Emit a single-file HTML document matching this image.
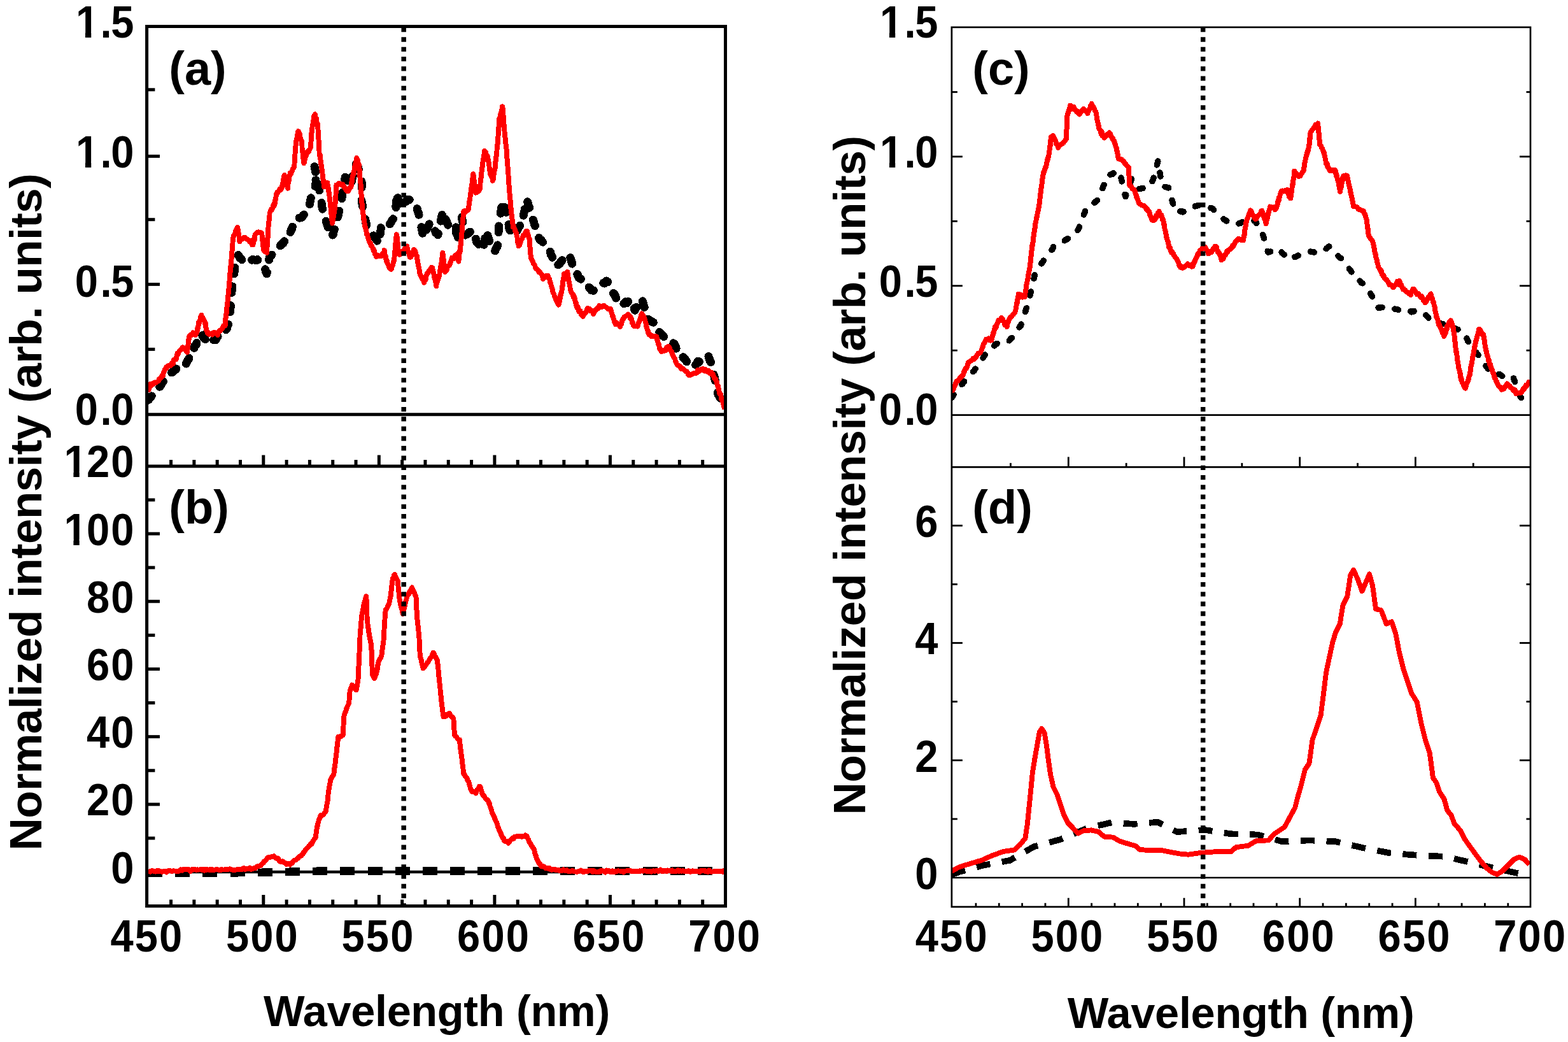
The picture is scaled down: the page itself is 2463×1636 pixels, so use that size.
<!DOCTYPE html>
<html><head><meta charset="utf-8"><title>Normalized intensity vs wavelength</title>
<style>
html,body{margin:0;padding:0;background:#fff;width:2463px;height:1636px;overflow:hidden}
svg{display:block}
text{font-family:'Liberation Sans', Arial, sans-serif;font-weight:bold;fill:#000}
</style></head><body>
<svg width="2463" height="1636" viewBox="0 0 2463 1636">
<rect width="2463" height="1636" fill="#fff"/>
<line x1="230.60" y1="650.80" x2="1139.50" y2="650.80" stroke="#000" stroke-width="5" />
<line x1="230.60" y1="1369.10" x2="1139.50" y2="1369.10" stroke="#000" stroke-width="4.5" />
<line x1="1494.90" y1="651.60" x2="2404.00" y2="651.60" stroke="#000" stroke-width="2.7" />
<line x1="1494.90" y1="1378.00" x2="2404.00" y2="1378.00" stroke="#000" stroke-width="2.4" />
<defs><clipPath id="cA"><rect x="230.6" y="41.5" width="908.9" height="690.5"/></clipPath><clipPath id="cB"><rect x="230.6" y="732" width="908.9" height="690.5"/></clipPath><clipPath id="cC"><rect x="1494.9" y="42.8" width="909.1" height="690.6"/></clipPath><clipPath id="cD"><rect x="1494.9" y="733.4" width="909.1" height="690.4"/></clipPath></defs>
<polyline points="231.9,628.5 233.4,627.8 234.9,624.7 236.4,624.6 237.9,622.2 239.4,620.7 240.8,620.7 242.3,618.0 243.8,616.4 245.3,615.4 246.8,614.2 248.0,611.7 249.3,610.4 250.5,607.6 251.8,606.3 253.0,604.5 254.2,602.2 255.5,600.3 256.7,598.5 258.0,597.8 259.2,596.1 260.5,594.3 261.7,592.8 263.3,590.4 265.0,589.8 266.6,588.5 268.3,587.4 269.9,584.8 271.6,583.6 273.2,581.0 275.1,581.0 277.0,578.8 278.9,578.3 280.8,579.1 282.8,575.7 284.7,576.8 286.6,575.5 288.5,574.0 290.4,573.5 291.6,571.8 292.7,570.3 293.9,567.6 295.0,565.6 296.2,563.8 297.3,561.7 298.5,560.6 299.4,558.1 300.3,557.5 301.2,553.6 302.1,552.2 302.9,550.4 303.8,547.7 304.7,548.6 305.6,543.6 306.5,543.2 307.4,541.3 308.4,541.0 309.3,536.7 310.2,537.1 311.2,534.0 312.1,532.7 313.1,530.5 314.0,529.7 314.9,526.6 315.9,525.6 316.8,524.1 317.9,527.1 319.1,525.9 320.2,530.6 321.4,532.0 322.6,532.9 323.7,535.3 324.9,536.6 326.0,540.0 327.8,538.0 329.7,536.8 331.5,535.9 333.4,535.0 335.2,534.1 337.0,532.7 338.9,533.8 340.7,530.1 342.6,528.0 344.4,529.5 346.2,528.1 348.1,527.1 349.9,525.3 351.8,524.0 353.6,522.9 354.3,521.3 355.0,518.2 355.7,516.2 356.4,515.8 357.1,512.7 357.7,509.6 358.4,509.8 359.1,506.7 359.8,503.7 360.5,501.2 360.7,500.1 360.8,497.3 361.0,495.0 361.1,492.8 361.3,491.3 361.5,490.3 361.6,487.2 361.8,484.4 362.0,483.8 362.1,481.3 362.3,479.8 362.4,477.9 362.6,474.9 362.8,472.8 362.9,470.8 363.1,468.0 363.3,467.2 363.4,465.6 363.6,462.7 363.7,460.3 363.9,458.2 364.2,455.8 364.5,453.7 364.7,451.9 365.0,449.5 365.3,447.7 365.6,444.8 365.8,444.1 366.1,441.8 366.4,438.9 366.7,436.0 366.9,435.6 367.2,434.3 367.5,430.9 367.8,429.0 368.0,426.9 368.3,425.6 368.6,422.5 368.9,421.7 369.1,418.7 369.4,417.5 369.7,414.8 370.4,412.7 371.0,409.8 371.7,408.4 372.3,406.7 373.0,405.4 373.6,403.1 374.3,400.5 375.6,402.9 376.9,405.0 378.2,405.8 379.5,407.3 380.8,408.9 382.1,411.4 383.4,412.9 385.3,411.1 387.2,411.2 389.1,409.9 391.1,408.9 393.0,409.5 394.9,408.5 397.2,407.4 399.5,408.0 401.8,408.3 404.1,407.5 405.9,409.2 407.8,411.1 409.6,410.8 411.5,413.6 413.3,415.3 414.1,417.3 414.9,418.1 415.7,421.4 416.6,422.7 417.4,425.8 418.2,428.0 419.0,429.9 419.4,427.1 419.7,425.2 420.1,424.2 420.4,420.9 420.8,419.9 421.1,417.9 421.5,415.3 421.8,415.1 422.2,411.5 422.5,410.9 422.9,406.0 423.2,403.8 423.6,404.0 425.4,402.2 427.1,400.0 428.9,398.7 430.2,395.9 431.6,395.3 432.9,393.5 434.3,392.6 435.6,391.9 437.0,389.8 438.3,388.6 439.7,386.3 441.0,385.0 442.4,383.9 443.8,382.2 445.1,381.8 446.4,378.8 447.8,379.3 449.1,375.8 450.5,375.7 451.8,372.9 453.2,373.2 454.0,370.2 454.7,368.5 455.5,366.9 456.2,364.1 457.0,361.9 457.8,359.3 458.5,359.7 459.3,356.5 460.0,354.7 460.8,353.2 461.6,352.8 462.3,348.3 463.1,347.8 463.8,345.5 464.6,344.3 466.6,341.9 468.7,342.1 470.7,342.1 472.8,341.9 474.8,341.1 476.3,337.8 477.7,336.8 479.2,335.0 480.6,332.5 482.1,330.8 483.5,330.8 485.0,328.8 485.4,326.5 485.8,325.4 486.2,321.8 486.6,320.8 486.9,318.4 487.3,316.3 487.7,314.7 488.1,312.4 488.5,310.4 488.9,308.4 489.7,307.5 490.4,303.9 491.2,302.8 491.9,300.5 492.7,297.8 493.5,296.5 494.2,293.3 495.0,292.7 495.7,289.3 496.5,287.5 496.3,285.9 496.1,284.1 495.9,282.0 495.7,279.9 495.5,277.0 495.2,274.3 495.0,273.3 494.8,270.9 494.6,267.9 494.4,267.1 494.2,264.5 494.0,261.5 494.4,264.5 494.8,265.3 495.3,267.6 495.7,270.4 496.1,271.1 496.5,274.2 497.0,275.2 497.4,278.6 497.8,279.6 498.2,282.2 498.6,283.0 499.1,285.8 499.5,288.7 499.9,290.4 500.3,290.7 500.8,294.7 501.2,296.6 501.6,297.7 501.9,301.0 502.3,301.3 502.6,304.1 503.0,306.9 503.3,309.1 503.6,311.1 504.0,311.5 504.3,313.1 504.7,316.6 505.0,317.4 505.3,320.3 505.7,321.6 506.0,325.3 506.4,327.1 506.7,329.0 507.3,330.6 507.9,332.5 508.5,334.3 509.1,336.7 509.7,338.5 510.3,340.6 510.8,342.0 511.4,345.6 512.0,346.4 512.6,349.1 513.2,351.0 513.8,351.4 514.4,352.8 515.2,356.9 516.1,357.7 516.9,360.1 517.8,361.8 518.6,364.1 519.5,365.2 520.3,367.9 521.2,369.7 522.0,372.0 522.6,368.4 523.1,368.6 523.7,366.2 524.3,362.8 524.8,361.5 525.4,360.0 526.0,358.4 526.5,356.0 527.1,355.0 527.6,352.0 528.1,349.2 528.6,347.4 529.2,346.4 529.7,343.4 530.2,342.4 530.7,340.5 531.2,338.1 531.7,336.4 532.2,333.5 532.7,331.6 533.3,329.2 533.8,327.1 534.3,324.4 534.8,323.1 535.1,320.8 535.5,318.5 535.8,317.6 536.1,315.8 536.5,313.3 536.8,312.5 537.1,310.2 537.4,308.3 537.8,305.1 538.1,302.5 538.4,301.9 538.8,299.8 539.1,298.1 539.4,295.9 539.8,294.4 540.1,291.4 540.4,290.0 540.7,287.0 541.1,284.0 541.4,283.3 541.7,282.6 542.1,278.4 542.4,278.3 543.4,279.0 544.3,281.1 545.3,283.4 546.2,285.4 547.2,286.5 548.2,289.2 549.1,291.3 550.1,293.5 550.6,290.4 551.1,290.0 551.6,288.3 552.1,286.6 552.6,282.0 553.1,281.1 553.6,277.7 554.1,277.3 554.5,275.4 555.0,272.2 555.5,269.9 556.0,269.2 556.5,267.5 557.0,264.5 557.5,262.9 558.0,259.3 558.5,258.6 559.0,257.2 559.9,259.0 560.8,261.8 561.7,261.7 562.6,262.7 563.5,266.4 564.4,267.4 565.3,269.8 566.2,271.9 567.1,273.6 568.0,276.0 568.0,278.0 568.0,277.9 568.0,281.1 568.0,284.6 568.0,284.9 568.0,287.9 568.0,289.2 568.0,291.0 568.0,294.5 568.0,296.1 568.0,297.3 568.0,300.1 568.0,300.6 568.0,303.1 568.0,306.2 568.0,307.7 568.0,308.9 568.0,312.0 568.0,314.0 568.0,316.7 568.4,318.5 568.8,319.6 569.2,321.5 569.6,323.7 570.0,325.7 570.4,328.9 570.8,331.0 571.2,332.8 571.6,334.2 572.0,335.7 572.4,338.5 572.8,339.7 573.2,342.1 573.6,342.8 574.0,345.7 574.4,349.0 574.8,349.3 575.2,350.9 575.6,353.9 576.7,356.9 577.9,358.4 579.0,358.9 580.1,360.5 581.3,362.5 582.4,363.6 583.5,366.0 584.7,367.5 585.8,368.4 587.1,370.6 588.3,372.4 589.6,373.6 590.9,375.0 592.2,378.0 593.5,380.3 594.7,380.3 596.0,381.8 596.2,380.5 596.4,377.9 596.6,375.6 596.7,375.1 596.9,371.4 597.1,369.6 597.3,367.6 597.5,365.5 597.7,363.9 597.9,362.5 598.0,361.1 598.2,358.6 598.4,356.1 598.6,353.2 600.7,354.1 602.8,353.4 605.0,354.0 607.1,354.8 609.2,354.2 611.3,354.0 612.3,351.8 613.3,350.5 614.4,348.8 615.4,346.3 616.4,344.8 617.4,344.0 618.4,340.4 619.5,339.5 620.5,337.2 621.5,337.3 621.6,334.5 621.7,332.4 621.7,330.3 621.8,328.1 621.9,326.0 622.0,322.6 622.1,321.9 622.1,320.0 622.2,316.5 622.3,316.0 622.4,313.8 622.5,310.2 622.6,308.9 622.6,306.9 622.7,304.7 622.8,303.3 623.3,304.1 623.8,306.8 624.3,309.1 624.8,311.4 625.3,312.9 625.8,314.6 626.2,317.3 626.7,317.4 627.2,321.4 627.7,322.5 628.2,323.8 628.7,326.3 629.2,327.3 630.3,325.5 631.5,325.0 632.6,323.0 633.7,322.3 634.9,319.5 636.0,317.5 637.1,316.0 638.3,316.2 639.4,313.3 641.4,313.4 643.5,313.6 645.5,314.0 647.6,315.2 649.6,316.1 650.4,318.6 651.3,320.6 652.1,322.0 653.0,323.3 653.8,325.1 654.7,326.1 655.5,329.0 656.4,332.0 657.2,333.5 657.6,336.0 658.0,336.8 658.4,340.4 658.8,342.0 659.2,343.8 659.6,346.1 660.0,346.2 660.4,349.4 660.8,351.2 661.3,355.1 661.7,355.7 662.1,357.5 662.5,360.5 662.9,361.2 663.3,364.9 663.7,365.5 664.1,367.9 664.5,369.3 664.9,372.6 665.8,368.6 666.6,368.7 667.5,365.7 668.3,364.4 669.1,361.6 670.0,360.7 670.9,358.7 671.7,357.1 672.5,355.0 673.4,353.3 674.2,351.6 675.1,348.7 676.2,349.9 677.2,351.5 678.3,354.6 679.3,355.5 680.4,358.2 681.5,359.2 682.5,360.2 683.6,363.2 684.6,365.7 685.7,365.9 686.7,367.0 687.8,368.8 688.2,368.0 688.6,365.0 689.0,363.1 689.4,361.8 689.8,359.3 690.2,357.4 690.6,354.9 691.0,352.8 691.4,351.4 691.9,349.4 692.3,347.6 692.7,344.9 693.1,343.4 693.5,341.5 693.9,339.2 694.3,337.5 694.7,335.8 695.1,333.3 695.5,331.2 696.2,332.4 697.0,335.3 697.7,337.1 698.4,338.9 699.1,340.6 699.9,343.5 700.6,346.9 701.3,347.5 702.1,349.2 702.8,351.5 703.5,352.8 704.2,355.3 705.0,356.7 705.7,358.8 707.7,358.3 709.8,357.3 711.8,356.0 713.9,354.5 715.9,354.2 716.1,355.4 716.2,358.8 716.4,360.2 716.6,362.5 716.7,365.2 716.9,367.2 717.1,368.0 717.2,370.9 717.4,373.5 717.6,374.6 717.7,375.8 717.9,379.5 718.3,377.6 718.7,375.9 719.1,373.6 719.5,371.6 719.9,369.7 720.3,368.5 720.7,365.8 721.1,363.9 721.5,361.2 721.9,360.2 722.3,357.3 722.7,355.9 723.1,351.9 723.5,351.6 723.9,349.3 724.3,347.0 724.7,346.2 725.1,343.6 725.5,341.2 725.9,342.9 726.2,346.6 726.6,347.8 727.0,349.8 727.3,350.8 727.7,354.3 728.0,355.7 728.4,357.2 728.8,359.3 729.1,360.2 729.5,363.8 729.9,364.6 730.2,368.0 730.6,369.1 732.4,367.9 734.3,367.5 736.1,366.2 737.9,364.2 739.7,363.8 741.6,363.2 743.4,361.5 744.0,362.8 744.5,365.5 745.1,367.0 745.7,369.3 746.2,371.7 746.8,373.6 747.4,375.5 747.9,376.5 748.5,379.8 749.8,381.0 751.0,382.5 752.3,384.5 753.6,387.3 754.9,386.6 756.2,388.0 757.4,391.2 758.7,391.7 759.0,391.2 759.4,387.5 759.7,385.8 760.1,384.7 760.4,382.7 760.7,380.4 761.1,378.3 761.4,375.9 761.8,373.6 762.1,371.8 762.4,370.7 762.8,368.3 763.1,365.8 763.5,364.0 763.8,362.3 764.4,364.5 764.9,365.6 765.5,367.6 766.1,369.9 766.6,373.5 767.2,373.8 767.8,376.5 768.3,376.5 768.9,380.2 769.9,380.5 770.8,382.7 771.8,384.9 772.7,387.2 773.6,389.3 774.6,391.3 775.5,393.1 776.5,394.6 777.5,394.7 778.5,391.1 779.6,389.2 780.6,388.1 781.6,385.4 781.8,383.0 781.9,380.7 782.1,379.7 782.2,375.5 782.4,373.5 782.5,372.2 782.7,368.6 782.8,367.4 783.0,366.6 783.1,363.4 783.3,361.7 783.4,360.0 783.6,356.6 783.7,355.5 783.9,352.8 784.0,350.3 784.2,348.8 784.5,346.9 784.8,344.6 785.2,342.3 785.5,341.4 785.8,339.4 786.1,336.9 786.4,334.4 786.8,331.7 787.1,329.8 787.4,327.5 787.7,326.3 788.0,324.7 788.3,322.7 788.7,319.9 789.0,317.6 789.3,315.9 789.9,317.8 790.6,320.0 791.2,322.6 791.8,323.0 792.5,326.8 793.1,325.8 793.8,328.0 794.4,330.1 794.8,332.4 795.3,335.0 795.7,338.7 796.1,338.8 796.5,342.1 797.0,343.1 797.4,345.5 797.8,346.7 798.2,351.0 798.7,351.5 799.1,353.1 799.5,357.2 799.9,357.7 800.4,359.9 800.8,361.6 802.4,363.0 804.0,364.6 805.5,367.4 807.1,370.5 808.2,368.0 809.2,365.9 810.3,365.0 811.4,362.0 812.4,361.9 813.5,359.2 814.6,356.9 815.6,356.3 816.7,354.5 817.8,352.2 818.8,350.8 819.9,349.7 820.3,348.0 820.8,344.4 821.2,341.2 821.6,342.5 822.0,338.9 822.5,336.8 822.9,335.4 823.3,332.8 823.8,331.9 824.2,328.3 824.6,327.0 825.0,324.3 825.5,324.3 825.9,321.1 826.3,320.0 826.7,318.2 827.2,314.5 827.6,313.1 828.2,315.8 828.8,317.3 829.4,319.1 829.9,321.7 830.5,323.7 831.1,324.7 831.7,326.9 832.3,329.4 832.9,331.1 833.4,333.0 834.0,334.1 834.6,338.1 835.2,338.6 835.8,340.9 836.5,342.6 837.1,344.6 837.8,346.5 838.4,347.8 839.0,350.5 839.7,353.0 840.3,354.3 841.0,356.5 841.6,358.2 842.3,359.8 842.9,363.0 843.5,363.4 844.2,366.2 844.8,368.8 845.4,370.4 846.1,371.6 846.7,373.7 848.3,377.0 849.8,376.7 851.4,378.7 852.9,380.5 854.5,381.6 856.0,381.7 857.6,383.1 859.1,385.7 860.7,386.7 861.5,389.0 862.2,391.2 863.0,393.2 863.7,394.1 864.5,395.8 865.2,399.6 866.0,400.4 866.7,402.0 867.5,403.4 868.2,407.1 869.0,407.8 869.7,409.9 870.5,413.0 871.2,414.8 872.0,416.9 872.7,417.6 873.5,418.4 874.8,418.1 876.0,417.0 877.3,415.2 878.6,414.7 879.9,412.7 881.2,410.1 882.4,409.7 883.7,407.6 885.6,406.5 887.5,406.8 889.5,404.0 891.4,405.0 893.3,404.2 895.2,401.2 895.8,404.6 896.5,406.7 897.1,408.2 897.7,410.7 898.4,412.6 899.0,415.3 899.9,416.8 900.9,417.5 901.8,421.7 902.7,423.3 903.6,424.0 904.6,427.0 905.5,429.7 906.4,429.1 907.3,431.7 908.3,433.5 909.2,436.1 910.6,436.9 912.0,437.6 913.4,440.8 914.8,441.2 916.3,443.3 917.7,445.8 919.1,445.1 920.5,446.8 921.9,449.1 923.6,449.7 925.3,451.4 927.0,452.3 928.7,455.5 930.4,455.3 932.1,456.3 933.9,454.9 935.6,453.8 937.4,451.1 939.2,450.8 940.9,450.2 942.7,447.6 944.4,447.2 946.2,445.8 947.8,444.3 949.4,445.1 951.0,442.6 952.6,441.0 954.2,442.2 955.8,444.7 957.3,446.4 958.9,448.4 959.8,450.6 960.6,454.1 961.5,455.2 962.4,457.3 963.3,459.0 964.1,462.0 965.0,461.4 965.9,462.9 966.8,465.9 967.6,467.8 968.5,469.6 969.4,471.0 970.3,473.8 971.1,476.5 972.0,477.3 972.9,478.9 974.8,479.3 976.8,477.6 978.7,476.9 980.6,476.7 982.6,473.9 984.7,475.8 986.7,473.4 988.8,472.8 990.8,471.6 991.6,473.6 992.4,474.3 993.2,478.4 994.0,479.5 994.8,481.2 995.6,485.1 996.4,483.9 997.2,487.2 998.3,484.9 999.4,482.3 1000.5,483.0 1001.6,478.8 1002.7,478.3 1003.8,476.4 1004.9,474.9 1006.0,472.4 1007.1,472.4 1008.2,469.9 1008.8,470.8 1009.4,472.8 1010.1,475.8 1010.7,476.8 1011.3,479.9 1011.9,481.7 1012.5,483.1 1013.2,484.1 1013.8,486.5 1014.4,489.6 1015.0,491.0 1015.6,494.6 1016.2,495.0 1016.9,497.5 1017.5,499.7 1018.1,501.3 1020.2,502.6 1022.2,504.4 1024.3,504.8 1026.4,506.3 1027.5,507.7 1028.6,511.2 1029.7,511.8 1030.8,514.1 1032.0,513.2 1033.1,516.8 1034.2,518.2 1035.3,520.9 1036.4,522.4 1038.1,523.3 1039.7,525.2 1041.4,527.3 1043.0,528.8 1044.7,529.0 1046.6,531.2 1048.6,531.2 1050.5,533.1 1052.4,533.2 1054.4,535.6 1056.3,537.6 1057.5,537.7 1058.7,540.7 1059.9,540.7 1061.0,543.2 1062.2,547.4 1063.4,547.4 1064.6,549.7 1065.9,549.9 1067.1,552.8 1068.4,554.0 1069.7,557.1 1070.9,557.7 1072.2,561.6 1073.5,560.7 1074.7,563.5 1076.0,563.6 1077.7,566.3 1079.4,568.9 1081.1,569.6 1082.7,570.3 1084.4,573.1 1086.1,574.9 1087.8,576.1 1089.5,575.1 1091.1,572.0 1092.8,572.9 1094.4,570.8 1096.0,567.4 1097.7,568.8 1099.6,566.1 1101.5,565.8 1103.3,563.0 1105.2,562.9 1107.1,561.0 1109.0,561.9 1110.8,560.1 1112.7,558.6 1113.4,560.8 1114.1,563.8 1114.8,564.4 1115.5,567.2 1116.2,567.9 1116.9,569.4 1117.6,572.2 1118.0,574.3 1118.5,576.6 1118.9,579.1 1119.4,580.2 1119.8,582.2 1120.3,585.0 1120.7,586.7 1121.2,588.4 1121.6,590.5 1122.1,590.8 1122.5,594.0 1123.0,595.2 1123.4,598.1 1123.9,600.9 1124.3,601.1 1124.6,605.2 1124.8,606.3 1125.1,608.8 1125.4,610.8 1125.6,613.9 1125.9,615.1 1127.1,616.0 1128.3,619.6 1129.5,621.2 1130.6,623.6 1131.8,625.5 1133.0,626.2 1134.2,629.0 1135.0,631.2 1135.7,633.3 1136.5,635.6 1137.2,638.0 1138.0,640.0" fill="none" stroke="#000" stroke-width="13" stroke-linejoin="round" stroke-linecap="round" stroke-dasharray="10 20" stroke-dashoffset="0" clip-path="url(#cA)" shape-rendering="crispEdges"/>
<polyline points="231.9,613.1 232.9,611.3 233.9,611.9 234.9,606.2 235.8,607.2 236.8,602.7 237.8,605.2 238.8,602.3 240.6,603.3 242.5,600.4 244.3,601.1 246.2,599.8 248.0,598.7 249.2,598.2 250.3,594.6 251.4,594.0 252.6,593.7 253.8,591.1 254.9,588.8 255.8,590.4 256.6,585.9 257.4,583.4 258.3,582.6 259.1,580.0 260.0,578.4 260.8,576.8 261.7,578.1 263.2,574.6 264.8,573.8 266.3,573.5 267.8,574.3 269.4,570.5 270.9,569.0 272.0,571.3 273.2,564.5 274.4,564.2 275.5,563.8 276.6,564.2 277.8,558.3 278.7,554.5 279.6,556.7 280.6,553.3 281.5,551.6 282.4,550.9 283.8,549.1 285.2,547.8 286.7,545.4 288.1,546.2 289.3,548.1 290.4,547.8 291.6,548.8 292.7,551.9 293.9,553.2 294.1,549.4 294.4,548.4 294.6,548.5 294.9,545.2 295.1,543.1 295.4,542.0 295.6,539.9 295.8,538.1 296.1,533.8 296.3,536.8 296.6,533.0 296.8,529.8 297.1,530.4 297.3,527.7 298.8,525.9 300.2,525.8 301.7,526.0 303.1,522.3 305.0,524.4 306.9,525.9 308.8,522.6 309.2,521.3 309.6,521.1 310.0,515.9 310.4,515.9 310.7,516.0 311.1,513.8 311.5,511.3 311.9,506.1 312.3,509.8 313.0,505.7 313.7,504.2 314.4,502.1 315.0,497.5 315.7,496.2 316.4,494.7 317.4,500.4 318.4,498.5 319.4,500.8 320.4,502.4 321.4,505.1 321.8,506.8 322.2,508.3 322.6,508.1 323.0,507.4 323.3,513.5 323.7,515.4 324.1,518.4 324.5,518.5 324.9,519.6 326.0,522.9 327.2,522.2 328.3,524.8 329.9,523.7 331.5,524.3 333.2,525.4 334.8,522.6 336.4,521.9 337.8,522.2 339.2,523.7 340.7,524.2 342.1,525.8 343.0,521.2 343.9,521.0 344.9,519.0 345.8,519.9 346.7,517.9 348.1,516.9 349.5,515.8 350.8,511.8 352.2,512.0 353.6,511.5 353.8,507.1 354.0,506.6 354.2,503.1 354.4,499.4 354.6,499.7 354.9,496.6 355.1,496.0 355.3,493.3 355.5,492.5 355.7,487.4 355.9,491.0 356.1,488.2 356.3,484.1 356.5,481.5 356.7,480.8 356.9,479.8 357.2,477.6 357.4,475.6 357.6,470.7 357.8,469.9 358.0,471.2 358.2,467.9 358.4,463.8 358.5,462.8 358.7,460.1 358.8,458.8 359.0,459.9 359.2,456.2 359.3,456.1 359.5,453.0 359.7,448.9 359.8,448.2 360.0,450.2 360.1,444.3 360.3,442.1 360.5,443.2 360.6,439.9 360.8,437.9 361.0,438.0 361.1,431.8 361.3,432.9 361.4,429.1 361.6,426.7 361.8,425.7 361.9,426.5 362.1,423.0 362.3,418.9 362.4,418.1 362.6,419.8 362.8,417.3 362.9,412.7 363.1,415.6 363.2,410.0 363.4,407.1 363.6,406.7 363.7,406.4 363.9,405.4 364.0,402.8 364.2,399.0 364.3,397.0 364.5,393.9 364.6,393.9 364.8,391.3 364.9,390.6 365.0,386.7 365.2,385.9 365.3,383.5 365.5,381.2 365.6,379.4 365.8,377.7 365.9,375.7 366.1,376.1 366.2,373.6 366.9,369.9 367.6,370.5 368.3,368.4 369.0,368.1 369.7,364.0 370.6,362.0 371.4,359.4 372.2,358.5 373.1,357.0 373.4,358.3 373.7,359.6 374.0,362.5 374.2,363.7 374.5,365.7 374.8,365.9 375.1,369.2 375.4,369.4 375.6,371.5 375.9,374.6 376.2,379.0 376.5,379.3 377.9,376.6 379.3,375.0 380.6,375.2 382.0,374.4 383.4,372.8 384.9,372.5 386.5,374.5 388.0,375.4 389.3,376.7 390.6,377.3 391.9,379.4 393.3,378.2 394.6,380.8 395.9,384.3 397.2,383.8 397.6,383.9 398.0,379.7 398.4,379.1 398.8,378.4 399.1,374.7 399.5,373.3 399.9,375.8 400.3,369.8 400.7,368.0 402.1,366.7 403.5,366.0 405.0,364.5 406.4,364.4 407.9,365.3 409.5,364.9 411.0,366.1 411.2,366.6 411.5,368.3 411.7,371.1 411.9,374.9 412.1,375.9 412.4,378.7 412.6,380.7 412.8,381.0 413.0,385.9 413.3,384.2 413.5,385.9 413.7,388.0 413.9,391.9 414.2,392.1 414.4,393.1 416.7,395.3 419.0,396.8 419.1,393.3 419.2,391.2 419.4,391.1 419.5,389.1 419.6,387.2 419.7,383.0 419.8,382.6 420.0,380.8 420.1,376.1 420.2,378.2 420.3,374.8 420.5,372.4 420.6,373.9 420.7,369.3 420.8,366.2 420.9,365.2 421.1,364.2 421.2,362.7 421.3,359.6 421.5,356.7 421.7,355.1 421.8,353.0 422.0,350.9 422.2,350.4 422.4,347.9 422.6,346.8 422.7,343.7 422.9,341.8 423.1,340.9 423.3,338.8 423.4,338.9 423.6,334.4 423.8,334.0 424.9,331.9 425.9,328.6 427.0,329.6 428.1,327.1 429.1,322.4 430.2,324.3 430.7,322.9 431.1,318.7 431.6,320.2 432.1,316.3 432.5,312.7 433.0,313.1 433.4,310.0 433.9,306.8 434.4,303.9 434.8,305.2 435.3,302.0 436.4,302.4 437.5,300.6 438.6,298.0 439.7,296.5 440.8,298.1 441.9,296.6 443.0,293.9 443.4,290.6 443.8,288.0 444.1,287.0 444.5,287.9 444.9,284.6 445.3,281.8 445.7,278.7 446.0,278.8 446.4,275.6 446.8,275.0 447.3,277.8 447.8,280.0 448.3,280.6 448.8,281.7 449.4,284.3 449.9,288.1 450.4,288.0 450.9,287.5 451.4,293.2 451.9,293.2 452.2,295.6 452.6,288.6 452.9,287.2 453.3,285.1 453.6,284.1 454.0,281.0 454.3,277.9 454.7,275.4 455.0,276.0 455.4,273.6 455.7,271.6 456.8,273.5 457.8,270.1 458.9,268.7 460.0,264.9 461.0,264.3 462.1,261.9 462.2,260.1 462.4,259.4 462.5,257.4 462.6,255.1 462.8,253.0 462.9,249.0 463.0,248.1 463.2,247.7 463.3,244.8 463.4,242.4 463.5,242.0 463.7,238.4 463.8,236.9 463.9,237.1 464.1,233.5 464.2,234.0 464.3,230.9 464.5,229.4 464.6,228.0 464.9,221.8 465.2,222.8 465.6,219.4 465.9,218.7 466.2,217.3 466.6,217.3 466.9,213.8 467.2,214.2 467.5,209.5 467.9,208.3 468.2,206.7 468.5,206.0 469.1,206.6 469.6,207.7 470.2,209.9 470.8,210.3 471.3,215.7 471.9,216.9 472.5,218.3 473.0,219.9 473.6,220.6 473.8,222.7 474.0,226.2 474.2,226.0 474.4,227.9 474.6,232.9 474.8,234.7 475.0,234.9 475.2,237.1 475.4,238.6 475.6,242.1 475.8,241.5 476.0,244.1 476.2,246.5 476.4,249.6 476.6,249.3 476.8,251.8 477.0,252.7 477.2,254.4 477.4,256.2 477.9,255.3 478.3,254.4 478.8,250.5 479.3,248.7 479.8,247.0 480.2,246.1 480.7,244.6 481.2,240.2 482.5,240.7 483.8,237.5 485.0,238.2 486.3,234.5 487.6,232.8 487.7,231.4 487.9,230.4 488.0,227.4 488.2,227.1 488.3,225.2 488.5,223.2 488.6,221.6 488.8,220.6 488.9,216.6 489.0,215.8 489.2,213.9 489.3,209.4 489.5,210.7 489.6,207.4 489.8,205.6 489.9,204.1 490.1,203.0 490.2,201.4 490.5,199.7 490.8,196.3 491.1,196.2 491.5,193.9 491.8,190.9 492.1,189.5 492.4,188.6 492.7,186.2 493.1,184.7 493.4,182.0 493.7,181.4 494.0,180.9 494.5,180.4 495.0,179.5 495.5,185.6 496.0,184.5 496.6,185.2 497.1,185.7 497.6,191.2 498.1,193.8 498.6,195.5 499.1,195.5 499.2,199.7 499.3,199.5 499.4,200.6 499.5,203.3 499.6,205.3 499.7,206.9 499.8,209.1 499.9,207.6 500.0,214.3 500.1,213.3 500.2,216.7 500.4,216.6 500.5,219.7 500.6,221.0 500.7,221.0 500.8,225.4 500.9,227.5 501.0,227.0 501.1,227.6 501.2,231.2 501.3,232.8 501.4,235.8 501.5,237.5 501.6,241.4 501.9,242.0 502.2,242.6 502.4,245.0 502.7,242.8 503.0,247.2 503.3,249.0 503.6,251.9 503.8,254.3 504.1,256.0 504.4,258.7 504.7,258.4 504.9,261.6 505.2,262.8 505.5,264.8 505.8,267.1 506.0,268.2 506.3,270.7 506.5,272.2 506.8,275.5 507.0,275.9 507.3,278.3 507.5,283.2 507.8,282.5 508.0,284.2 508.3,286.8 508.5,286.0 508.8,290.1 509.0,292.0 509.3,293.5 510.6,292.9 511.9,291.4 513.1,290.6 514.4,287.0 514.7,290.2 514.9,290.7 515.2,294.9 515.5,295.3 515.8,295.2 516.0,298.9 516.3,299.2 516.6,303.6 516.8,303.8 517.1,303.2 517.4,307.3 517.7,311.0 517.9,311.9 518.2,312.5 518.4,316.0 518.6,317.7 518.7,320.7 518.9,321.7 519.1,322.9 519.3,323.2 519.5,326.4 519.6,328.2 519.8,329.7 520.0,332.0 520.2,331.8 520.4,335.9 520.6,337.0 520.7,339.2 520.9,340.5 521.1,342.0 521.3,344.6 521.5,347.1 521.6,347.4 521.8,350.1 522.0,350.5 522.3,350.1 522.6,347.7 523.0,344.1 523.3,345.4 523.6,340.8 524.0,340.2 524.3,336.4 524.6,334.0 524.9,335.2 525.2,330.6 525.6,327.8 525.9,328.3 526.0,324.7 526.2,324.6 526.3,325.3 526.4,320.6 526.6,319.7 526.7,318.1 526.8,315.8 527.0,313.4 527.1,313.6 527.2,309.7 527.3,308.4 527.5,306.2 527.6,302.5 527.7,302.7 527.9,300.5 528.0,299.4 528.1,297.5 528.3,296.8 528.4,290.5 529.7,290.9 531.0,289.7 532.2,288.0 533.5,288.3 535.1,289.0 536.7,290.5 538.3,289.5 539.9,291.7 540.9,294.3 541.9,295.4 543.0,296.7 544.0,298.8 545.0,300.1 546.3,297.6 547.6,299.6 548.8,295.1 550.1,295.3 551.4,293.7 551.7,292.3 552.1,288.4 552.4,286.0 552.8,286.0 553.1,283.9 553.5,278.7 553.8,276.5 554.2,277.3 554.5,275.6 554.9,273.9 555.2,272.9 555.6,269.3 556.0,272.1 556.4,268.0 556.8,266.6 557.2,263.4 557.6,258.6 557.9,259.7 558.3,256.8 558.7,256.2 559.1,253.6 559.5,252.8 559.9,248.9 560.3,247.7 560.9,250.1 561.6,251.1 562.2,253.4 562.8,256.7 563.5,260.3 564.1,259.4 564.2,262.6 564.4,261.9 564.5,264.6 564.7,267.5 564.8,269.7 565.0,269.5 565.1,273.4 565.3,274.6 565.4,278.0 565.5,279.3 565.7,280.7 565.8,281.3 566.0,284.0 566.1,284.4 566.3,286.3 566.4,286.8 566.6,289.4 566.7,291.3 566.8,294.6 567.0,296.8 567.1,296.8 567.2,300.3 567.4,302.8 567.5,305.4 567.6,305.9 567.8,308.2 567.9,309.3 568.0,312.9 568.1,311.6 568.3,315.8 568.4,314.3 568.5,321.4 568.7,322.3 568.8,320.3 568.9,324.2 569.1,324.9 569.2,326.3 569.5,329.9 569.8,331.1 570.0,335.4 570.3,335.2 570.6,336.3 570.9,339.4 571.2,341.9 571.4,344.2 571.7,345.6 572.0,344.9 572.3,347.6 572.5,350.2 572.8,351.2 573.1,355.0 573.6,355.5 574.0,357.7 574.5,359.2 575.0,361.6 575.4,361.4 575.9,367.9 576.3,366.3 576.8,368.0 577.3,368.5 577.7,372.5 578.2,372.7 579.1,376.7 580.0,379.6 580.9,380.7 581.8,381.2 582.7,385.2 583.6,385.1 584.5,387.1 585.2,389.0 585.9,390.0 586.6,392.9 587.3,392.5 588.1,393.5 588.8,399.0 589.5,398.2 590.2,400.4 590.9,403.0 592.8,402.0 594.8,401.1 596.7,402.3 598.6,401.4 599.6,401.7 600.6,398.9 601.7,397.6 602.7,397.4 603.7,392.9 604.2,394.8 604.6,399.5 605.1,402.1 605.6,402.4 606.0,403.3 606.5,407.6 606.9,408.5 607.4,411.0 607.9,409.3 608.3,413.3 608.8,414.0 609.8,415.4 610.8,419.1 611.9,420.8 612.9,420.8 613.9,422.7 614.6,422.9 615.4,420.2 616.1,417.3 616.8,416.3 617.5,414.0 618.3,410.4 619.0,409.5 619.2,408.7 619.3,407.4 619.5,403.2 619.6,401.9 619.8,400.4 620.0,397.4 620.1,398.9 620.3,396.3 620.4,395.6 620.6,389.3 620.7,389.3 620.9,390.8 621.1,384.9 621.2,382.5 621.4,383.3 621.5,383.3 621.7,380.3 621.8,376.4 622.0,376.5 622.2,374.5 622.3,372.5 622.5,370.9 622.6,369.6 622.8,368.3 623.0,370.4 623.2,371.8 623.4,372.1 623.6,371.8 623.9,376.7 624.1,375.9 624.3,382.6 624.5,380.1 624.7,381.0 624.9,382.9 625.1,387.6 625.3,389.3 625.5,391.6 625.8,393.0 626.0,393.5 626.2,397.3 626.4,397.2 626.6,398.1 627.9,399.9 629.2,398.1 630.5,394.9 631.7,394.5 633.0,394.9 634.3,393.5 636.0,390.1 637.7,392.0 639.4,386.5 640.0,391.8 640.7,394.1 641.3,395.4 642.0,397.6 642.6,397.3 643.2,401.1 643.9,403.8 644.5,403.9 645.4,403.4 646.3,401.2 647.2,396.7 648.2,397.0 649.1,396.7 650.0,392.1 650.9,392.3 651.5,394.4 652.2,394.1 652.8,397.1 653.4,400.3 654.1,401.8 654.7,401.3 655.0,405.8 655.4,406.8 655.7,408.3 656.1,412.0 656.4,412.9 656.7,414.3 657.1,416.9 657.4,418.4 657.8,421.0 658.1,421.1 658.4,420.8 658.8,427.0 659.1,427.9 659.5,429.4 659.8,430.6 660.7,432.3 661.6,434.4 662.5,434.9 663.5,438.9 664.4,439.8 665.3,440.3 666.2,443.7 666.8,441.1 667.5,439.5 668.1,438.4 668.8,439.2 669.4,432.5 670.0,432.4 670.7,430.9 671.3,428.6 672.6,428.7 673.8,425.0 675.1,423.8 676.4,422.9 677.6,419.9 678.9,421.8 679.4,420.6 679.8,424.7 680.3,427.4 680.7,426.6 681.2,429.3 681.6,431.1 682.1,435.4 682.6,435.3 683.0,434.5 683.5,440.0 683.9,441.8 684.4,439.7 684.8,440.6 685.3,449.3 685.9,444.1 686.6,439.3 687.2,441.5 687.8,440.1 688.5,433.3 689.1,436.1 689.8,433.4 690.4,430.6 690.7,427.8 691.0,427.4 691.2,424.0 691.5,423.4 691.8,421.0 692.1,419.0 692.4,418.4 692.7,417.1 693.0,415.1 693.2,412.7 693.5,412.5 693.8,406.8 694.1,406.7 694.4,405.0 694.6,404.5 694.9,398.2 695.2,398.7 695.5,397.0 695.7,399.5 695.9,403.9 696.2,403.1 696.4,404.5 696.6,407.0 696.8,409.5 697.1,409.8 697.3,414.0 697.5,412.1 697.7,417.1 698.0,418.2 698.2,420.4 698.4,422.9 698.6,422.4 698.9,425.0 699.1,426.6 699.3,427.3 700.2,425.3 701.1,423.4 702.0,423.7 703.0,417.8 703.9,417.3 704.8,417.2 705.7,417.0 706.6,413.5 707.4,413.5 708.2,410.1 709.1,407.8 709.9,404.8 710.8,405.3 712.3,406.3 713.9,403.2 715.4,400.7 717.0,401.8 718.5,398.2 718.9,400.6 719.3,405.5 719.6,406.6 720.0,409.4 720.4,410.5 720.6,408.2 720.8,406.8 721.1,404.4 721.3,404.4 721.5,399.5 721.7,397.0 722.0,396.5 722.2,397.0 722.4,393.3 722.6,389.2 722.9,394.1 723.1,387.4 723.3,386.5 723.5,385.7 723.8,383.7 724.0,381.2 724.2,377.6 724.4,378.4 724.5,374.7 724.7,373.9 724.8,373.2 725.0,369.9 725.1,366.3 725.3,366.0 725.4,365.7 725.6,364.0 725.8,359.6 725.9,359.5 726.1,357.9 726.2,357.1 726.4,354.4 726.5,352.3 726.7,349.8 726.9,349.0 727.0,347.5 727.2,344.5 727.3,342.5 727.5,343.3 727.6,339.2 727.8,336.4 727.9,336.4 728.1,332.1 729.6,331.3 731.1,332.8 732.7,330.7 734.2,330.6 735.7,329.6 736.0,325.8 736.2,325.6 736.5,322.6 736.8,321.6 737.1,319.8 737.3,317.5 737.6,314.1 737.9,314.4 738.1,312.2 738.4,311.0 738.7,307.1 739.0,306.9 739.2,304.6 739.5,302.4 739.7,300.9 740.0,299.1 740.2,295.8 740.4,295.1 740.6,293.4 740.9,292.8 741.1,290.2 741.3,290.4 741.6,287.6 741.8,285.4 742.0,283.5 742.3,279.6 742.5,280.1 742.7,279.4 742.9,274.7 743.2,275.9 743.4,273.2 743.6,274.6 743.8,275.5 744.1,277.8 744.3,278.6 744.5,281.4 744.7,283.3 745.0,285.1 745.2,285.2 745.4,289.8 745.6,289.6 745.9,292.7 746.1,294.8 746.3,295.5 746.5,300.7 746.8,299.6 747.0,301.7 747.2,302.7 748.8,302.2 750.4,298.9 752.0,300.1 753.6,297.5 753.8,295.6 754.0,295.4 754.2,293.8 754.4,290.3 754.5,287.7 754.7,284.7 754.9,284.2 755.1,284.3 755.3,282.7 755.5,278.5 755.7,278.4 755.9,277.9 756.1,273.8 756.3,272.2 756.5,270.0 756.6,269.9 756.8,265.2 757.0,265.6 757.2,264.6 757.4,262.1 757.7,261.6 757.9,259.3 758.2,256.1 758.5,253.6 758.8,251.7 759.0,251.9 759.3,249.3 759.6,247.8 759.8,244.6 760.1,245.5 760.4,243.3 760.7,241.3 760.9,237.1 761.2,240.0 762.1,239.5 762.9,238.7 763.8,243.0 764.6,243.3 765.4,244.2 766.3,245.9 766.6,249.4 766.9,250.9 767.1,252.6 767.4,253.9 767.7,254.7 768.0,258.1 768.2,259.3 768.5,261.2 768.8,264.1 769.1,267.3 769.4,266.1 769.6,270.0 769.9,269.6 770.2,273.5 770.8,274.9 771.5,275.9 772.1,277.9 772.7,278.3 773.4,280.6 774.0,283.9 774.3,281.8 774.7,281.8 775.0,275.8 775.4,274.7 775.7,273.5 776.1,271.6 776.4,269.0 776.8,267.3 777.1,265.8 777.5,265.7 777.8,262.1 778.0,259.4 778.2,258.8 778.4,253.2 778.6,253.6 778.8,252.0 779.0,251.3 779.2,246.2 779.4,246.9 779.6,243.9 779.8,244.7 780.0,242.5 780.2,239.1 780.4,238.4 780.6,234.4 780.8,234.3 781.0,232.5 781.2,231.6 781.4,227.8 781.6,223.8 781.7,225.7 781.8,221.5 782.0,220.4 782.1,218.8 782.2,219.5 782.3,215.5 782.5,215.2 782.6,212.0 782.7,208.4 782.8,208.9 783.0,207.1 783.1,204.0 783.2,200.9 783.3,204.6 783.5,201.9 783.6,197.9 783.7,196.2 783.8,195.0 784.0,192.7 784.1,188.2 784.2,186.5 784.6,187.5 785.1,186.4 785.5,184.2 785.9,182.1 786.3,179.2 786.8,178.7 787.2,177.6 787.6,174.5 788.0,173.6 788.4,171.8 788.9,167.5 789.3,168.1 789.4,167.4 789.6,169.1 789.7,174.1 789.9,171.8 790.0,175.4 790.2,178.6 790.3,179.8 790.5,180.6 790.6,181.8 790.8,185.4 790.9,187.2 791.1,188.3 791.2,189.0 791.3,190.2 791.5,193.8 791.6,195.6 791.8,198.5 791.9,198.9 792.1,202.2 792.2,201.4 792.4,202.5 792.5,207.7 792.7,207.8 792.8,209.1 793.0,211.8 793.1,212.3 793.3,215.3 793.5,215.9 793.8,219.7 794.0,220.7 794.2,223.3 794.4,225.3 794.6,227.7 794.8,226.9 795.1,231.2 795.3,232.6 795.5,233.3 795.7,236.4 795.8,239.2 796.0,241.1 796.1,244.8 796.2,243.8 796.4,246.3 796.5,250.4 796.6,249.1 796.8,250.7 796.9,253.0 797.0,254.7 797.1,257.3 797.3,259.4 797.4,260.2 797.5,261.6 797.7,264.8 797.8,265.2 797.9,267.6 798.1,271.0 798.2,272.3 798.3,273.0 798.5,274.4 798.6,276.8 798.7,278.1 798.9,282.5 799.0,284.6 799.2,286.0 799.3,287.9 799.4,288.7 799.6,291.5 799.7,293.2 799.8,295.1 800.0,296.3 800.1,297.4 800.3,301.0 800.4,303.0 800.5,303.0 800.7,306.0 800.8,308.2 801.0,310.6 801.2,309.7 801.3,311.9 801.5,313.8 801.7,315.8 801.9,317.8 802.0,322.0 802.2,321.3 802.4,327.3 802.6,326.8 802.8,329.1 802.9,330.0 803.1,333.0 803.3,334.2 803.5,336.6 803.8,338.1 804.0,340.0 804.2,341.6 804.5,344.3 804.7,344.9 805.0,346.0 805.2,350.5 805.4,349.8 805.7,352.7 805.9,356.7 806.6,355.1 807.4,357.4 808.1,358.7 808.8,360.2 809.5,364.0 810.3,364.7 811.0,367.0 811.3,366.5 811.7,371.1 812.0,371.5 812.4,371.8 812.7,375.2 813.1,375.9 813.4,381.8 813.8,379.5 814.1,383.9 814.5,384.0 814.8,386.2 815.5,383.8 816.3,385.1 817.0,380.4 817.7,379.1 818.4,378.4 819.2,375.9 819.9,375.4 820.9,372.0 821.8,369.3 822.8,370.3 823.8,369.6 824.7,367.2 825.7,363.9 826.6,364.8 827.6,362.7 828.1,363.1 828.7,365.9 829.2,367.1 829.8,369.2 830.3,371.7 830.9,373.8 831.4,374.6 831.5,376.4 831.7,375.0 831.8,378.9 832.0,382.3 832.1,382.5 832.3,385.8 832.4,386.9 832.6,389.0 832.7,390.8 832.9,394.1 833.0,394.9 833.2,396.2 833.3,396.4 833.5,400.2 833.6,400.2 833.8,404.9 833.9,404.2 834.8,406.2 835.7,408.6 836.6,409.3 837.6,413.0 838.5,414.7 839.4,415.2 840.3,417.2 841.6,421.7 842.9,422.4 844.1,423.2 845.4,424.3 846.7,427.4 847.8,426.7 848.8,428.6 849.9,430.4 851.0,431.0 852.0,432.9 853.1,438.0 855.0,435.3 856.9,433.3 858.8,433.5 860.7,432.6 861.3,434.6 862.0,437.0 862.6,437.1 863.2,438.6 863.9,442.5 864.5,444.4 865.2,445.1 865.8,448.4 866.4,449.7 867.1,452.6 867.7,454.0 868.3,457.5 869.0,459.8 869.6,460.8 870.3,461.9 870.9,464.9 871.6,466.4 872.3,467.8 873.0,469.9 873.7,470.1 874.5,473.3 875.2,474.7 875.9,476.2 876.6,477.2 877.3,478.6 877.7,478.1 878.1,475.0 878.5,472.5 878.9,474.1 879.3,471.8 879.7,467.6 880.0,468.5 880.4,462.4 880.8,463.9 881.2,462.3 881.6,460.0 882.0,457.6 882.4,457.1 882.7,454.9 882.9,451.1 883.2,449.8 883.5,450.1 883.8,447.9 884.0,443.8 884.3,441.5 884.6,442.1 884.8,438.7 885.1,437.0 885.4,435.4 885.7,434.6 885.9,429.9 886.2,431.6 887.9,429.3 889.6,430.1 891.3,426.7 891.6,428.9 892.0,432.5 892.3,435.0 892.7,435.5 893.0,437.1 893.3,441.0 893.7,442.5 894.0,443.4 894.4,444.6 894.7,448.4 895.0,449.5 895.4,450.1 895.7,454.2 896.1,455.6 896.4,456.4 897.2,458.4 898.1,460.5 899.0,460.7 899.8,461.4 900.6,466.1 901.5,464.3 902.1,466.4 902.8,468.4 903.4,472.7 904.0,475.3 904.7,475.1 905.3,479.4 906.0,481.8 906.6,483.3 907.6,481.7 908.6,486.7 909.6,489.6 910.6,487.3 911.6,488.1 912.6,493.4 913.6,494.2 914.6,495.2 915.6,496.9 916.6,493.2 917.5,492.7 918.5,492.4 919.4,491.2 920.4,490.1 921.3,488.6 922.2,485.2 923.2,484.1 924.7,487.1 926.2,484.7 927.7,488.1 929.1,487.4 930.6,489.8 932.1,492.9 933.6,489.8 935.1,487.5 936.6,485.9 938.1,483.8 939.6,484.2 941.1,480.1 943.1,482.3 945.2,482.1 947.2,480.3 949.3,480.0 951.3,481.9 953.2,482.9 955.1,484.9 957.0,484.7 958.9,484.6 959.5,485.8 960.1,489.5 960.6,490.7 961.2,491.9 961.8,495.8 962.4,495.2 963.0,497.4 963.6,500.4 964.1,501.5 964.7,502.9 965.3,505.9 966.8,509.2 968.3,506.4 969.8,508.7 971.2,509.4 972.7,510.2 974.2,513.1 975.0,509.2 975.8,509.6 976.6,504.5 977.4,504.2 978.2,501.2 979.0,500.9 979.8,499.6 980.6,497.6 982.5,496.6 984.5,495.4 986.4,493.5 988.3,495.5 989.1,496.3 989.8,499.4 990.6,497.7 991.3,501.2 992.1,501.2 992.9,506.5 993.6,506.0 994.4,507.4 995.1,511.6 995.9,512.1 997.8,512.2 999.7,511.4 1001.6,512.5 1002.3,509.7 1002.9,507.8 1003.6,505.7 1004.2,505.1 1004.9,503.4 1005.6,499.8 1006.2,499.5 1006.9,494.7 1007.5,493.8 1008.2,492.3 1009.0,493.7 1009.9,496.9 1010.7,496.2 1011.5,497.6 1012.4,501.4 1013.2,501.7 1013.6,504.7 1014.1,506.6 1014.5,507.4 1015.0,509.6 1015.4,512.9 1015.9,513.7 1016.3,515.6 1016.8,518.1 1017.2,518.2 1017.7,519.4 1018.1,522.3 1019.8,525.6 1021.5,525.1 1023.1,528.0 1024.8,527.3 1026.5,528.4 1028.1,527.9 1029.8,527.7 1031.4,528.4 1032.0,533.0 1032.6,533.3 1033.1,535.0 1033.7,539.1 1034.3,540.5 1034.9,540.4 1035.5,544.2 1036.0,547.4 1036.6,548.7 1037.2,548.5 1039.3,552.2 1041.4,550.1 1042.8,550.9 1044.2,549.3 1045.6,550.0 1046.9,545.6 1048.3,544.5 1049.7,543.9 1050.6,546.9 1051.6,545.9 1052.5,549.6 1053.5,550.5 1054.4,552.0 1055.4,552.7 1056.3,556.5 1057.0,557.8 1057.8,559.8 1058.5,561.1 1059.2,562.4 1060.0,563.1 1060.7,565.8 1061.4,568.5 1062.2,569.3 1062.9,571.5 1064.2,573.2 1065.6,573.9 1066.9,574.5 1068.3,574.9 1069.6,579.0 1071.2,578.1 1072.9,578.9 1074.5,580.1 1076.2,581.8 1077.5,583.5 1078.8,583.2 1080.2,585.6 1081.5,588.8 1082.8,588.3 1085.0,588.8 1087.3,587.4 1089.5,586.4 1091.2,585.6 1092.8,586.4 1094.4,585.5 1096.1,580.9 1097.8,583.0 1099.4,582.2 1101.1,579.7 1102.7,580.7 1104.4,578.9 1106.6,582.5 1108.8,580.4 1111.0,583.7 1112.7,581.8 1114.3,582.8 1115.9,586.7 1117.6,584.8 1118.7,586.9 1119.8,587.1 1120.9,590.9 1122.1,594.1 1123.2,593.7 1124.3,595.4 1124.8,597.7 1125.4,598.6 1125.9,599.9 1126.5,603.5 1127.0,605.0 1127.6,605.1 1128.1,606.2 1128.7,611.8 1129.2,611.5 1129.8,615.6 1130.4,618.1 1130.9,618.8 1131.6,620.1 1132.3,619.6 1133.0,626.6 1133.7,627.8 1134.4,627.6 1135.1,629.2 1135.6,633.1 1136.2,631.8 1136.8,637.2 1137.3,639.4 1137.9,638.6 1138.4,642.0" fill="none" stroke="#ff0000" stroke-width="7.9" stroke-linejoin="round" stroke-linecap="butt" clip-path="url(#cA)" shape-rendering="crispEdges"/>
<polyline points="232.0,1371.0 300.0,1371.0 400.0,1370.0 500.0,1367.7 1139.0,1367.7" fill="none" stroke="#000" stroke-width="12.5" stroke-linejoin="round" stroke-linecap="butt" stroke-dasharray="23 20.2" stroke-dashoffset="0" clip-path="url(#cB)" shape-rendering="crispEdges"/>
<polyline points="232.0,1367.1 233.8,1368.2 235.7,1368.7 237.5,1367.6 239.4,1367.0 241.2,1367.9 243.1,1368.2 244.9,1368.6 246.8,1367.0 248.6,1366.9 250.5,1368.3 252.3,1368.1 254.2,1368.8 256.0,1368.4 257.8,1367.7 259.7,1367.5 261.5,1369.5 263.4,1367.5 265.2,1367.1 267.1,1366.8 268.9,1367.7 270.8,1367.7 272.6,1367.3 274.5,1367.5 276.3,1367.7 278.2,1368.0 280.0,1368.3 282.0,1367.2 284.0,1365.4 286.0,1366.8 288.0,1364.9 290.0,1365.4 291.8,1364.5 293.6,1365.5 295.5,1364.9 297.3,1365.6 299.1,1367.8 300.9,1365.4 302.7,1366.0 304.5,1364.5 306.4,1365.2 308.2,1365.9 310.0,1365.3 311.8,1365.6 313.6,1365.4 315.5,1364.6 317.3,1365.7 319.1,1364.7 320.9,1366.6 322.7,1364.9 324.5,1365.8 326.4,1365.3 328.2,1365.9 330.0,1364.8 331.8,1365.9 333.6,1365.1 335.5,1366.1 337.3,1365.6 339.1,1365.3 340.9,1364.6 342.7,1365.7 344.5,1365.5 346.4,1366.3 348.2,1364.9 350.0,1365.5 351.8,1365.5 353.6,1365.3 355.5,1365.2 357.3,1365.2 359.1,1364.6 360.9,1364.3 362.7,1364.8 364.5,1365.4 366.4,1366.1 368.2,1365.7 370.0,1365.7 371.9,1365.4 373.8,1365.1 375.6,1364.6 377.5,1364.8 379.4,1365.3 381.2,1363.6 383.1,1363.2 385.0,1364.9 386.9,1363.6 388.8,1364.1 390.6,1363.9 392.5,1362.5 394.4,1364.9 396.2,1364.4 398.1,1363.2 400.0,1363.5 401.9,1362.1 403.8,1360.4 405.8,1360.0 407.7,1359.3 409.6,1358.9 411.0,1357.2 412.3,1355.4 413.7,1354.9 415.0,1352.1 416.4,1351.8 417.7,1350.6 419.1,1348.3 421.0,1346.3 422.9,1345.9 424.9,1345.8 426.8,1345.0 428.7,1344.8 430.3,1344.1 431.9,1345.8 433.4,1347.4 435.0,1347.9 436.6,1347.4 438.2,1350.7 440.1,1352.7 442.0,1352.7 444.0,1352.3 445.9,1353.7 447.8,1355.1 449.8,1357.0 451.8,1356.1 453.8,1356.2 455.8,1357.6 457.4,1355.2 459.0,1355.2 460.5,1352.2 462.1,1351.0 463.7,1350.6 465.3,1350.0 466.9,1348.4 468.5,1347.1 470.1,1344.6 471.7,1344.3 473.3,1343.3 474.4,1341.7 475.6,1340.9 476.7,1338.7 477.9,1337.9 479.0,1335.8 480.2,1334.0 481.3,1332.7 482.6,1331.6 483.9,1330.5 485.2,1328.3 486.6,1327.1 487.9,1325.0 489.2,1325.7 490.3,1324.0 491.3,1321.3 492.4,1319.5 493.5,1317.4 494.5,1316.8 495.6,1315.2 495.9,1314.7 496.2,1311.5 496.5,1308.9 496.8,1305.8 497.1,1306.6 497.3,1303.9 497.6,1300.7 497.9,1300.1 498.2,1297.0 498.5,1298.6 498.8,1295.1 499.5,1292.9 500.2,1290.5 500.9,1287.4 501.5,1287.0 502.2,1284.1 502.9,1283.8 503.6,1280.1 505.2,1279.7 506.8,1279.9 508.4,1278.9 510.0,1275.7 511.6,1274.1 511.9,1273.9 512.2,1272.0 512.5,1268.8 512.8,1267.1 513.2,1265.2 513.5,1262.9 513.8,1261.4 514.1,1260.8 514.4,1258.5 514.7,1257.5 514.9,1254.1 515.1,1252.0 515.3,1249.4 515.5,1248.1 515.7,1245.2 515.9,1242.9 516.1,1242.7 516.3,1241.2 516.7,1239.0 517.0,1237.6 517.4,1235.0 517.7,1232.6 518.1,1231.4 518.4,1229.3 518.8,1227.0 519.1,1224.8 519.5,1223.2 520.5,1222.3 521.4,1220.5 522.4,1218.2 523.3,1217.6 524.3,1214.8 524.6,1213.2 524.8,1211.7 525.1,1208.4 525.3,1205.6 525.6,1205.6 525.9,1202.7 526.1,1202.2 526.4,1199.6 526.6,1198.1 526.9,1196.0 527.1,1192.1 527.3,1192.2 527.6,1189.3 527.8,1187.3 528.0,1185.6 528.2,1184.6 528.4,1182.7 528.7,1180.9 528.9,1177.1 529.1,1176.0 529.3,1172.8 529.5,1172.5 529.8,1171.1 530.0,1168.2 530.2,1167.0 530.4,1165.1 530.6,1163.7 530.9,1160.5 531.1,1158.6 531.3,1156.8 533.1,1157.7 535.0,1156.5 536.8,1154.8 538.6,1154.3 538.7,1152.3 538.8,1150.4 538.9,1148.2 539.0,1146.2 539.1,1143.7 539.2,1142.2 539.3,1141.9 539.5,1139.2 539.6,1136.9 539.7,1134.8 539.8,1133.1 539.9,1131.4 540.0,1128.8 540.1,1127.5 540.2,1125.6 540.8,1123.0 541.5,1121.0 542.1,1119.0 542.8,1117.1 543.4,1116.5 544.1,1112.4 544.8,1112.1 545.5,1110.0 546.1,1108.2 546.8,1106.8 547.5,1105.7 548.2,1103.2 548.4,1101.1 548.5,1098.9 548.7,1097.3 548.8,1096.1 549.0,1093.3 549.2,1090.8 549.3,1088.8 549.5,1087.0 549.6,1084.9 549.8,1084.8 550.6,1082.2 551.4,1079.8 552.2,1079.0 553.0,1075.5 554.3,1078.1 555.6,1079.8 556.8,1079.7 558.1,1081.3 559.4,1083.4 559.7,1082.9 560.1,1081.4 560.4,1077.8 560.8,1077.6 561.1,1074.8 561.5,1073.1 561.8,1071.2 562.2,1069.6 562.5,1066.7 562.6,1065.5 562.7,1063.5 562.8,1062.8 562.8,1062.1 562.9,1060.7 563.0,1056.7 563.1,1053.9 563.2,1053.0 563.3,1050.8 563.3,1051.0 563.4,1048.1 563.5,1045.4 563.6,1044.7 563.7,1042.6 563.8,1039.2 563.8,1038.2 563.9,1036.5 564.0,1034.9 564.1,1033.1 564.2,1030.9 564.3,1029.5 564.3,1027.1 564.4,1025.1 564.5,1024.9 564.6,1022.3 564.6,1020.5 564.7,1017.3 564.8,1016.5 564.9,1015.3 564.9,1012.0 565.0,1011.9 565.1,1009.0 565.2,1007.7 565.2,1005.5 565.3,1004.0 565.4,1002.8 565.5,999.9 565.5,999.4 565.6,996.0 565.7,994.0 565.9,993.3 566.0,990.1 566.2,988.7 566.4,987.7 566.6,986.0 566.7,982.0 566.9,981.7 567.1,980.8 567.3,978.4 567.4,975.5 567.6,973.3 567.8,971.6 568.0,969.1 568.1,967.8 568.3,966.0 568.7,964.1 569.1,963.1 569.4,960.2 569.8,957.4 570.2,957.2 570.6,953.8 571.0,952.3 571.3,950.6 571.7,948.6 572.1,946.2 572.6,944.9 573.2,944.7 573.7,940.9 574.2,939.4 574.8,938.4 575.3,936.3 575.4,938.1 575.4,940.0 575.5,939.8 575.6,942.4 575.7,944.9 575.7,947.0 575.8,949.4 575.9,950.6 576.0,951.9 576.0,953.9 576.1,955.6 576.2,957.7 576.2,959.8 576.3,960.9 576.4,962.4 576.5,964.1 576.5,967.3 576.6,969.3 576.7,970.9 576.8,972.6 576.8,974.4 576.9,975.6 577.2,977.9 577.4,978.6 577.7,981.0 578.0,982.5 578.2,985.4 578.5,986.3 578.8,988.5 579.0,990.7 579.3,993.3 579.6,993.6 579.8,995.4 580.1,998.5 580.5,998.9 580.8,1001.8 581.2,1002.8 581.5,1004.9 581.9,1005.5 582.2,1009.1 582.6,1010.0 582.9,1011.5 583.3,1015.4 583.4,1016.3 583.4,1020.1 583.5,1019.8 583.6,1021.1 583.6,1023.3 583.7,1026.2 583.8,1026.9 583.8,1029.1 583.9,1031.0 584.0,1031.8 584.0,1034.4 584.1,1035.8 584.2,1037.2 584.2,1040.5 584.3,1042.2 584.4,1043.7 584.4,1044.9 584.5,1045.9 584.6,1049.5 584.6,1051.0 584.7,1051.7 584.8,1054.7 584.8,1055.6 584.9,1058.5 585.9,1060.7 587.0,1063.0 588.0,1065.1 589.1,1062.9 590.1,1059.8 591.2,1058.2 591.5,1056.2 591.8,1054.5 592.2,1053.0 592.5,1051.3 592.8,1050.1 593.1,1045.2 593.4,1045.4 593.8,1043.1 594.1,1042.9 594.4,1040.1 595.4,1036.3 596.3,1035.8 597.3,1033.3 598.2,1032.4 599.2,1029.1 599.5,1027.9 599.7,1026.0 600.0,1024.2 600.3,1022.0 600.5,1019.2 600.8,1019.0 601.1,1017.5 601.3,1014.9 601.6,1012.4 601.9,1011.4 602.1,1009.8 602.4,1007.4 602.5,1005.6 602.6,1004.7 602.7,1001.0 602.8,999.5 602.9,996.6 603.0,995.5 603.1,993.6 603.3,991.5 603.4,989.8 603.5,989.6 603.6,986.3 603.7,984.5 603.8,984.2 603.9,980.7 604.0,977.6 604.1,977.2 604.3,974.4 604.4,974.3 604.6,970.4 604.7,969.0 604.9,966.4 605.0,965.7 605.2,963.0 605.3,961.8 605.5,959.7 605.6,957.7 606.6,957.2 607.5,955.6 608.5,953.3 609.4,951.1 610.4,949.4 610.8,948.5 611.3,948.1 611.7,944.3 612.2,942.3 612.6,940.5 613.1,938.4 613.5,936.7 613.7,935.5 613.9,934.8 614.1,932.0 614.3,929.9 614.5,927.3 614.7,926.8 614.9,924.8 615.1,922.2 615.3,920.5 615.5,919.4 615.7,918.4 615.9,916.3 616.1,914.2 616.3,912.1 616.5,910.7 616.7,908.7 617.8,908.1 618.8,903.6 619.9,902.0 620.9,905.1 621.8,906.0 622.8,909.1 623.7,909.9 624.7,912.0 624.9,913.5 625.1,914.7 625.3,916.8 625.5,920.9 625.6,921.7 625.8,923.5 626.0,925.7 626.2,927.3 626.4,929.5 626.6,930.4 626.8,932.3 627.0,935.0 627.1,936.0 627.3,937.2 627.5,939.8 627.7,941.4 627.9,944.1 628.4,945.1 628.9,946.8 629.3,949.2 629.8,952.5 630.3,953.3 630.8,955.3 631.3,957.1 631.7,959.3 632.2,961.6 632.7,963.9 633.2,959.8 633.7,960.0 634.1,957.1 634.6,955.0 635.1,955.0 635.6,951.3 636.1,950.8 636.5,948.2 637.0,944.9 637.5,944.0 638.0,942.1 638.6,939.4 639.1,935.8 640.0,935.6 640.9,934.1 641.8,931.8 642.7,932.3 643.5,929.2 644.4,927.5 645.3,926.0 646.2,924.1 647.1,922.5 647.9,924.9 648.7,926.8 649.5,928.0 650.3,930.1 651.1,931.0 651.9,934.2 652.7,935.1 653.5,937.6 653.6,938.6 653.7,940.8 653.8,943.2 653.9,944.0 654.0,948.5 654.1,948.6 654.2,950.4 654.3,951.9 654.3,955.4 654.4,957.1 654.5,958.2 654.6,958.9 654.7,961.4 654.8,964.0 654.9,965.1 655.0,966.5 655.1,968.4 655.3,970.5 655.5,972.8 655.7,974.1 655.9,976.4 656.1,980.1 656.3,981.2 656.5,981.0 656.7,983.8 656.8,985.4 657.0,987.0 657.2,989.7 657.4,990.5 657.6,992.3 657.8,994.1 658.0,996.0 658.2,998.8 658.3,1000.3 658.4,1000.7 658.5,1003.2 658.6,1004.8 658.7,1007.9 658.8,1009.3 658.9,1011.7 659.0,1012.9 659.0,1013.5 659.1,1017.0 659.2,1018.7 659.3,1020.8 659.4,1021.4 659.5,1024.2 659.6,1025.6 659.7,1027.4 659.8,1030.0 660.3,1032.0 660.8,1033.0 661.2,1034.3 661.7,1035.7 662.2,1038.9 662.7,1042.0 663.2,1043.1 663.6,1043.5 664.1,1046.4 664.6,1049.2 665.9,1048.5 667.3,1046.6 668.6,1044.4 669.9,1042.7 671.3,1040.2 672.6,1039.1 673.5,1037.6 674.4,1035.7 675.3,1034.6 676.2,1032.7 677.0,1031.6 677.9,1030.8 678.8,1028.7 679.7,1026.9 680.6,1024.8 681.5,1025.5 682.4,1028.1 683.3,1030.2 684.2,1030.7 685.1,1033.9 686.0,1034.4 686.9,1036.5 687.1,1037.8 687.3,1039.1 687.5,1043.3 687.7,1042.9 687.8,1046.2 688.0,1047.0 688.2,1049.5 688.4,1050.6 688.6,1052.7 688.8,1055.6 689.0,1058.1 689.2,1058.1 689.3,1060.5 689.5,1063.1 689.7,1063.8 689.9,1066.6 690.1,1067.5 690.3,1070.3 690.5,1072.1 690.7,1074.5 690.9,1075.8 691.0,1076.5 691.2,1079.7 691.4,1080.4 691.6,1083.5 691.8,1085.9 692.0,1087.2 692.2,1088.3 692.4,1091.4 692.5,1092.5 692.7,1093.4 692.9,1095.9 693.1,1099.0 693.3,1099.7 693.5,1101.8 693.8,1103.3 694.0,1104.2 694.2,1106.8 694.4,1109.3 694.7,1111.0 694.9,1112.5 695.1,1113.0 695.4,1117.1 695.6,1118.6 695.8,1120.7 696.0,1122.7 696.3,1123.3 696.5,1125.0 698.4,1124.7 700.3,1124.7 702.3,1121.3 704.2,1121.4 706.1,1120.1 707.4,1122.6 708.6,1124.8 709.9,1125.2 711.1,1126.1 712.4,1128.6 712.5,1130.2 712.6,1131.2 712.7,1134.7 712.9,1135.5 713.0,1138.2 713.1,1138.6 713.2,1142.1 713.3,1142.2 713.4,1145.7 713.5,1145.5 713.7,1149.6 713.8,1150.2 713.9,1151.2 714.0,1153.9 715.3,1155.9 716.7,1156.6 718.0,1158.6 719.3,1160.7 720.7,1162.0 722.0,1161.6 722.2,1165.2 722.5,1167.6 722.7,1169.4 722.9,1171.7 723.1,1172.3 723.4,1176.4 723.6,1177.0 723.8,1178.5 724.1,1180.9 724.3,1182.6 724.5,1183.8 724.7,1185.1 725.0,1188.1 725.2,1189.5 725.4,1189.7 725.7,1192.1 725.9,1195.0 726.1,1196.6 726.3,1198.5 726.6,1200.6 726.8,1202.1 727.0,1204.9 727.3,1205.2 727.5,1207.1 727.7,1209.5 727.9,1211.6 728.2,1213.4 728.4,1215.7 729.5,1215.9 730.5,1218.7 731.5,1219.8 732.6,1220.3 733.7,1222.5 734.7,1225.7 735.3,1226.5 735.9,1227.4 736.4,1227.8 737.0,1230.7 737.6,1232.4 738.2,1234.7 738.8,1238.0 739.4,1238.7 739.9,1240.1 740.5,1241.0 741.1,1242.6 743.2,1243.3 745.4,1243.1 747.5,1245.5 748.6,1241.5 749.6,1239.8 750.7,1239.4 751.8,1237.1 752.8,1234.5 753.9,1234.7 754.4,1235.3 754.9,1236.4 755.5,1239.3 756.0,1241.2 756.5,1242.4 757.0,1244.9 757.6,1246.7 758.1,1247.3 758.6,1248.3 760.2,1249.3 761.8,1252.2 763.4,1254.4 765.0,1255.5 766.6,1257.1 767.2,1259.1 767.8,1259.6 768.3,1262.0 768.9,1262.0 769.5,1265.3 770.1,1266.8 770.7,1268.2 771.3,1269.7 771.8,1270.9 772.4,1273.6 773.0,1276.1 773.7,1276.7 774.5,1279.0 775.2,1279.9 775.9,1282.3 776.6,1283.2 777.4,1285.9 778.1,1287.2 778.8,1289.3 779.5,1290.4 780.3,1291.7 781.0,1294.1 781.7,1296.9 782.3,1299.1 783.0,1299.6 783.7,1302.2 784.4,1304.0 785.0,1305.5 785.7,1306.0 786.6,1309.1 787.5,1310.0 788.4,1313.4 789.4,1314.9 790.3,1316.6 791.2,1316.2 792.1,1320.2 794.2,1321.4 796.4,1321.0 798.5,1323.7 799.9,1321.7 801.2,1320.2 802.6,1318.4 803.9,1316.9 805.3,1315.9 806.6,1317.0 808.0,1313.6 809.9,1313.6 811.8,1313.0 813.8,1313.1 815.7,1313.1 817.6,1312.9 819.5,1313.8 821.4,1312.7 823.4,1313.1 825.3,1311.4 827.2,1312.6 828.0,1313.7 828.8,1316.1 829.6,1317.4 830.4,1318.7 831.2,1322.0 832.0,1322.7 833.0,1324.5 834.1,1325.6 835.1,1327.9 836.2,1329.1 837.2,1331.2 838.3,1332.8 838.8,1333.9 839.4,1335.1 839.9,1338.2 840.4,1340.3 841.0,1341.9 841.5,1342.4 842.0,1345.4 842.6,1347.0 843.1,1348.7 844.0,1350.4 844.9,1351.5 845.8,1353.5 846.8,1355.5 847.7,1356.1 848.6,1357.1 849.5,1359.6 851.5,1360.6 853.5,1360.0 855.5,1361.6 857.5,1363.3 859.3,1363.2 861.1,1363.7 862.9,1363.1 864.6,1365.0 866.4,1366.0 868.2,1365.0 870.0,1365.0 871.9,1364.8 873.8,1366.4 875.6,1366.0 877.5,1365.5 879.4,1367.1 881.2,1366.9 883.1,1366.9 885.0,1365.4 886.9,1366.7 888.8,1367.4 890.6,1366.2 892.5,1367.9 894.4,1368.4 896.2,1368.2 898.1,1367.2 900.0,1367.3 901.8,1368.5 903.6,1368.5 905.4,1368.7 907.2,1368.6 909.1,1367.7 910.9,1367.5 912.7,1366.5 914.5,1368.3 916.3,1369.4 918.1,1367.5 919.9,1367.5 921.7,1368.3 923.5,1368.1 925.3,1366.8 927.2,1367.3 929.0,1367.0 930.8,1369.2 932.6,1367.3 934.4,1368.4 936.2,1369.1 938.0,1369.1 939.8,1368.8 941.6,1368.9 943.5,1366.9 945.3,1367.6 947.1,1367.3 948.9,1367.6 950.7,1369.6 952.5,1366.6 954.3,1368.2 956.1,1366.9 957.9,1368.7 959.8,1368.7 961.6,1367.4 963.4,1369.2 965.2,1367.9 967.0,1368.7 968.8,1368.0 970.6,1367.4 972.4,1367.5 974.2,1367.7 976.0,1368.2 977.9,1367.9 979.7,1369.5 981.5,1367.7 983.3,1367.5 985.1,1367.3 986.9,1367.3 988.7,1366.8 990.5,1367.1 992.3,1368.4 994.2,1367.8 996.0,1367.7 997.8,1368.0 999.6,1368.5 1001.4,1368.2 1003.2,1368.3 1005.0,1367.4 1006.8,1367.6 1008.6,1367.3 1010.4,1367.7 1012.3,1367.2 1014.1,1367.5 1015.9,1367.7 1017.7,1367.6 1019.5,1367.6 1021.3,1367.5 1023.1,1368.7 1024.9,1367.6 1026.7,1367.1 1028.6,1367.9 1030.4,1367.0 1032.2,1367.0 1034.0,1367.9 1035.8,1366.6 1037.6,1365.5 1039.4,1368.0 1041.2,1368.5 1043.0,1366.6 1044.8,1367.2 1046.7,1368.2 1048.5,1366.4 1050.3,1367.2 1052.1,1367.0 1053.9,1367.7 1055.7,1366.4 1057.5,1368.4 1059.3,1367.7 1061.1,1368.0 1063.0,1367.6 1064.8,1366.3 1066.6,1367.7 1068.4,1366.9 1070.2,1367.8 1072.0,1367.2 1073.8,1367.6 1075.6,1367.7 1077.4,1368.3 1079.2,1368.3 1081.1,1367.1 1082.9,1367.8 1084.7,1368.8 1086.5,1368.1 1088.3,1367.3 1090.1,1367.7 1091.9,1367.6 1093.7,1368.5 1095.5,1367.8 1097.4,1368.1 1099.2,1369.3 1101.0,1366.8 1102.8,1367.1 1104.6,1366.6 1106.4,1366.7 1108.2,1368.4 1110.0,1368.0 1111.8,1368.9 1113.7,1366.4 1115.5,1367.2 1117.3,1368.8 1119.1,1368.5 1120.9,1368.4 1122.7,1368.4 1124.5,1367.8 1126.3,1367.8 1128.1,1367.8 1129.9,1368.4 1131.8,1367.7 1133.6,1368.0 1135.4,1368.8 1137.2,1367.0 1139.0,1367.8" fill="none" stroke="#ff0000" stroke-width="7.9" stroke-linejoin="round" stroke-linecap="butt" clip-path="url(#cB)" shape-rendering="crispEdges"/>
<polyline points="1494.8,624.6 1495.9,623.1 1497.1,620.9 1498.2,619.1 1499.4,616.9 1500.5,615.5 1501.7,614.3 1502.8,612.1 1504.2,610.9 1505.6,609.0 1507.0,607.6 1508.4,606.0 1509.8,603.6 1511.2,603.3 1512.6,601.7 1514.0,600.1 1515.5,597.6 1516.9,596.0 1518.3,595.0 1519.7,593.7 1521.1,592.6 1522.5,590.9 1523.9,589.7 1525.3,587.6 1526.7,586.6 1527.9,584.9 1529.0,582.7 1530.2,582.2 1531.4,580.0 1532.6,578.6 1533.7,576.0 1534.9,574.3 1536.1,572.8 1537.3,571.2 1538.4,569.9 1539.6,568.1 1540.8,566.0 1542.0,564.1 1543.1,562.6 1544.3,561.8 1545.5,559.1 1546.7,558.0 1547.8,556.4 1549.0,553.8 1550.6,553.1 1552.2,552.3 1553.8,549.2 1555.4,548.6 1557.0,547.2 1558.5,545.4 1560.1,544.6 1561.7,542.9 1563.3,540.8 1564.9,540.5 1566.5,538.9 1568.7,538.9 1570.9,538.9 1573.1,538.2 1575.3,537.9 1577.5,537.0 1579.7,537.7 1581.9,536.9 1584.1,536.8 1585.4,534.7 1586.6,533.1 1587.9,531.6 1589.2,530.8 1590.5,527.5 1591.7,526.1 1593.0,525.2 1594.3,524.1 1595.6,522.0 1596.8,519.1 1598.1,517.0 1599.4,516.8 1600.7,514.5 1601.9,512.6 1603.2,512.0 1603.8,510.1 1604.5,507.7 1605.1,505.9 1605.8,504.1 1606.4,502.7 1607.0,500.3 1607.7,498.4 1608.3,496.5 1609.0,493.5 1609.6,493.0 1610.2,490.9 1610.9,488.8 1611.5,485.6 1612.2,484.4 1612.8,483.2 1613.4,480.0 1614.1,478.9 1614.7,477.5 1615.4,474.5 1616.0,474.0 1616.4,471.5 1616.9,469.2 1617.3,467.5 1617.7,465.7 1618.2,463.5 1618.6,462.0 1619.0,459.2 1619.5,457.4 1619.9,456.1 1620.3,453.7 1620.8,451.3 1621.2,450.2 1621.6,448.5 1622.0,445.6 1622.5,443.2 1622.9,441.9 1623.3,439.9 1623.8,437.9 1624.2,436.8 1624.6,433.6 1625.1,432.8 1625.5,429.6 1626.6,428.0 1627.7,427.0 1628.9,425.5 1630.0,423.6 1631.1,421.6 1632.2,419.7 1633.3,418.0 1634.5,416.4 1635.6,414.3 1636.7,412.7 1638.0,411.2 1639.2,409.2 1640.5,407.9 1641.8,406.1 1643.1,405.1 1644.3,402.6 1645.6,400.5 1646.9,398.8 1648.2,397.3 1649.4,396.1 1650.7,393.7 1652.0,392.4 1653.3,391.4 1654.5,387.5 1655.8,386.5 1657.7,386.2 1659.5,385.2 1661.4,384.0 1663.2,382.7 1665.1,382.1 1666.9,380.9 1668.8,379.4 1670.7,379.8 1672.5,377.8 1674.4,376.2 1676.2,375.4 1678.1,374.3 1679.7,372.9 1681.3,370.2 1682.9,369.8 1684.5,369.1 1686.1,366.6 1687.7,365.7 1689.3,364.8 1690.9,363.3 1692.5,362.2 1694.1,359.1 1694.8,357.9 1695.5,356.0 1696.2,354.6 1696.9,353.0 1697.6,349.2 1698.3,349.2 1699.0,346.0 1699.7,345.2 1700.3,342.2 1701.0,341.2 1701.7,339.8 1702.4,337.2 1703.1,335.5 1703.8,333.9 1704.5,331.7 1705.2,329.7 1706.8,329.1 1708.4,327.5 1710.0,325.5 1711.6,325.7 1713.2,322.4 1714.8,322.1 1716.4,320.1 1718.0,319.0 1719.6,317.9 1721.2,316.3 1722.8,315.2 1724.4,312.8 1726.0,311.4 1726.7,310.6 1727.4,307.9 1728.1,305.9 1728.8,303.7 1729.5,303.2 1730.2,301.0 1730.9,299.4 1731.6,296.3 1732.3,294.8 1733.0,292.3 1733.7,291.3 1734.4,289.8 1735.1,286.6 1735.8,285.9 1736.5,283.7 1737.2,281.2 1737.9,278.4 1738.6,278.1 1739.3,275.5 1741.2,274.6 1743.1,274.4 1745.1,273.8 1747.0,273.7 1748.9,271.8 1750.8,272.2 1752.7,271.8 1754.7,271.1 1756.6,269.6 1758.5,268.7 1759.0,271.6 1759.5,273.1 1759.9,275.1 1760.4,277.8 1760.9,278.9 1761.3,279.9 1761.8,282.9 1762.3,284.1 1762.8,287.5 1763.2,289.2 1763.7,290.7 1764.2,293.0 1764.7,295.5 1765.2,297.1 1765.6,299.7 1766.1,301.0 1766.6,303.5 1767.0,305.8 1767.5,307.8 1768.0,308.7 1768.6,307.5 1769.3,304.2 1769.9,302.7 1770.6,300.4 1771.2,300.0 1771.8,296.9 1772.5,295.6 1773.1,293.6 1773.8,291.8 1774.4,289.6 1775.0,288.1 1775.7,286.9 1776.3,284.1 1777.0,282.5 1777.6,280.8 1778.7,282.0 1779.7,283.2 1780.8,285.3 1781.9,287.9 1782.9,288.3 1784.0,290.6 1785.1,293.2 1786.1,294.8 1787.2,296.2 1789.2,296.6 1791.3,296.3 1793.3,295.6 1795.4,295.4 1797.4,295.9 1799.5,296.7 1801.5,295.9 1802.9,293.9 1804.2,292.2 1805.6,290.0 1807.0,288.9 1808.4,286.5 1809.7,285.5 1811.1,282.3 1811.6,281.7 1812.1,279.2 1812.6,276.5 1813.1,275.9 1813.6,273.4 1814.1,270.4 1814.6,269.1 1815.1,267.7 1815.6,265.3 1816.1,264.0 1816.6,261.9 1817.1,259.9 1817.6,257.7 1818.1,256.3 1818.6,253.9 1819.1,251.8 1819.4,252.6 1819.7,256.2 1820.0,258.5 1820.4,259.8 1820.7,261.7 1821.0,265.0 1821.3,265.2 1821.6,268.4 1821.9,271.5 1822.2,271.9 1822.6,274.8 1822.9,277.4 1823.2,278.5 1823.5,280.9 1823.8,283.2 1824.1,284.3 1824.5,286.8 1824.8,289.1 1825.1,291.4 1825.4,293.1 1827.6,293.3 1829.9,293.2 1832.1,293.9 1834.4,294.8 1836.6,294.8 1837.1,296.3 1837.5,298.3 1838.0,302.1 1838.5,303.3 1838.9,305.1 1839.4,305.5 1839.9,309.1 1840.3,311.0 1840.8,313.6 1841.3,315.0 1841.8,316.8 1842.2,319.1 1842.7,319.9 1843.2,323.4 1843.6,325.0 1844.1,326.5 1844.6,329.5 1845.0,331.8 1845.5,332.2 1847.6,332.4 1849.7,332.6 1851.7,332.4 1853.8,331.9 1855.9,331.4 1857.9,332.8 1860.0,332.0 1862.1,330.7 1864.1,329.8 1866.0,330.4 1868.0,329.2 1869.9,328.8 1871.9,327.4 1873.9,325.7 1875.8,325.5 1877.8,323.4 1879.8,323.2 1881.7,322.7 1883.7,322.2 1885.6,320.7 1887.6,320.1 1889.6,321.3 1891.5,322.1 1893.5,323.2 1895.4,323.8 1897.4,324.4 1899.3,325.9 1901.3,326.4 1903.2,326.8 1905.2,327.8 1906.7,329.5 1908.2,330.8 1909.6,332.3 1911.1,333.6 1912.6,335.0 1914.1,336.3 1915.6,337.1 1917.0,339.3 1918.5,341.0 1920.0,342.0 1921.5,343.1 1922.9,344.8 1924.4,345.4 1925.9,346.4 1928.0,347.9 1930.1,347.9 1932.3,349.3 1934.4,348.9 1936.5,348.7 1938.6,350.0 1940.8,351.8 1942.9,351.4 1945.0,351.4 1946.8,350.7 1948.6,350.2 1950.3,349.1 1952.1,347.9 1953.9,347.5 1955.7,346.1 1957.4,344.6 1959.2,343.9 1961.0,343.3 1962.8,343.8 1964.7,344.6 1966.5,344.4 1968.4,345.6 1970.2,346.9 1972.1,347.2 1973.2,349.6 1974.4,351.1 1975.5,353.1 1976.6,354.3 1977.8,357.4 1978.9,358.5 1980.0,359.6 1981.2,361.5 1982.3,364.5 1982.9,365.0 1983.4,367.6 1984.0,369.6 1984.6,371.1 1985.1,372.5 1985.7,375.1 1986.3,377.2 1986.8,379.5 1987.4,381.3 1987.9,382.9 1988.5,385.3 1989.1,387.1 1989.6,388.9 1990.2,390.8 1990.8,392.6 1991.3,395.1 1991.9,396.2 1993.9,395.6 1995.9,395.1 1997.9,393.6 1999.8,393.3 2001.8,391.7 2003.8,391.6 2005.8,391.4 2007.8,390.6 2009.3,391.7 2010.7,393.1 2012.2,394.0 2013.7,397.1 2015.1,397.9 2016.6,399.6 2018.1,400.1 2019.5,401.9 2021.0,402.6 2022.5,405.4 2023.9,406.9 2025.4,407.0 2027.3,407.0 2029.2,406.5 2031.1,404.5 2033.1,403.6 2035.0,403.1 2036.9,402.5 2038.8,401.2 2040.7,401.1 2042.6,400.3 2044.5,399.7 2046.4,398.9 2048.4,398.4 2050.3,397.4 2052.2,395.3 2054.1,394.8 2056.2,394.7 2058.2,394.9 2060.3,395.5 2062.4,395.7 2064.4,396.1 2066.5,395.3 2068.6,395.6 2070.7,396.4 2072.7,396.4 2074.8,396.5 2076.6,395.3 2078.5,393.6 2080.3,392.9 2082.1,391.4 2083.9,389.8 2085.8,388.1 2087.6,387.0 2089.1,387.2 2090.6,389.6 2092.0,391.6 2093.5,392.3 2095.0,394.6 2096.5,396.1 2097.9,396.8 2099.4,398.9 2100.9,400.3 2102.4,402.2 2103.9,403.7 2105.3,404.9 2106.8,406.0 2108.3,407.8 2109.5,409.5 2110.8,411.5 2112.0,412.8 2113.3,413.9 2114.5,415.2 2115.7,417.3 2117.0,418.7 2118.2,420.1 2119.4,422.2 2120.7,423.6 2121.9,425.5 2123.2,427.3 2124.4,428.4 2125.6,431.4 2126.9,431.7 2128.1,434.0 2129.4,435.1 2130.6,437.2 2132.2,436.7 2133.8,438.8 2135.4,440.6 2137.0,442.1 2138.6,444.3 2140.1,444.6 2141.7,446.3 2143.3,447.4 2144.9,448.8 2146.5,449.9 2148.1,450.8 2149.0,453.0 2150.0,454.1 2150.9,457.1 2151.9,457.9 2152.8,460.4 2153.7,463.2 2154.7,463.9 2155.6,465.9 2156.6,468.4 2157.5,469.7 2158.5,471.1 2159.4,473.5 2160.3,475.6 2161.3,477.5 2162.2,478.7 2163.2,481.8 2164.1,483.6 2166.4,482.8 2168.6,482.9 2170.9,482.6 2173.2,483.5 2175.5,482.4 2177.7,483.1 2180.0,482.6 2182.0,482.9 2184.0,484.0 2186.0,484.7 2188.0,484.4 2190.0,484.5 2191.9,485.6 2193.9,485.6 2195.9,486.2 2197.9,487.2 2199.9,487.4 2201.9,486.9 2203.9,488.7 2206.4,488.7 2208.9,490.2 2211.0,489.3 2213.1,489.4 2215.2,488.4 2217.3,489.9 2219.5,489.5 2221.6,488.1 2223.7,487.7 2225.8,487.5 2227.9,488.7 2229.6,488.9 2231.3,490.2 2233.0,491.2 2234.8,492.3 2236.5,492.9 2238.2,494.6 2239.9,494.9 2241.6,496.7 2243.1,498.3 2244.6,499.9 2246.1,501.0 2247.5,502.2 2249.0,504.2 2250.5,505.4 2252.0,507.9 2254.0,507.7 2256.1,507.5 2258.1,507.5 2260.2,507.6 2262.2,507.7 2264.2,508.2 2266.3,508.7 2268.3,509.1 2270.3,509.9 2272.2,511.4 2274.2,510.8 2276.1,511.9 2278.1,514.1 2280.0,512.6 2282.0,514.0 2283.9,515.1 2285.9,515.9 2287.8,516.8 2289.8,517.3 2291.5,518.6 2293.3,519.4 2295.0,520.8 2296.7,520.5 2298.5,522.0 2300.2,523.4 2301.1,524.8 2302.1,526.8 2303.0,529.6 2303.9,530.9 2304.9,533.5 2305.8,535.5 2306.8,537.2 2307.7,539.3 2308.6,540.9 2309.6,542.2 2310.5,544.9 2311.9,546.6 2313.4,547.5 2314.8,549.2 2316.2,551.0 2317.7,551.6 2319.1,553.8 2320.4,556.2 2321.6,556.7 2322.9,558.8 2324.1,560.3 2325.4,562.9 2326.6,564.0 2327.9,566.0 2329.1,567.0 2330.4,569.0 2331.6,570.8 2332.9,571.6 2334.1,574.9 2335.2,576.4 2336.4,576.8 2337.5,579.7 2338.7,581.0 2339.8,583.0 2341.8,583.7 2343.9,583.5 2345.9,584.8 2347.9,586.4 2349.9,586.1 2352.0,586.5 2354.0,587.1 2356.0,587.9 2358.0,589.3 2360.1,590.7 2362.1,590.8 2364.4,590.6 2366.7,591.4 2369.0,589.9 2371.3,589.7 2373.6,590.1 2375.9,590.0 2376.6,591.1 2377.3,593.0 2378.0,595.6 2378.7,597.5 2379.5,598.7 2380.2,601.1 2380.9,602.9 2381.6,605.3 2382.3,607.0 2383.0,608.9 2383.7,610.7 2384.4,613.3 2385.2,615.4 2385.9,616.4 2386.6,619.0 2387.3,620.1 2388.0,622.4 2389.4,624.5 2390.8,626.6 2392.1,627.4 2393.5,629.2 2394.9,631.0" fill="none" stroke="#000" stroke-width="9.5" stroke-linejoin="round" stroke-linecap="round" stroke-dasharray="6 21" stroke-dashoffset="0" clip-path="url(#cC)" shape-rendering="crispEdges"/>
<polyline points="1494.8,614.2 1495.7,613.6 1496.6,612.9 1497.5,611.3 1498.4,609.2 1499.2,606.3 1500.1,604.8 1501.0,602.5 1501.9,599.7 1502.8,598.7 1504.2,598.8 1505.5,596.7 1506.9,594.8 1508.2,592.7 1509.6,592.3 1510.9,590.4 1512.3,589.6 1513.1,588.4 1513.9,583.9 1514.7,584.3 1515.5,581.2 1516.3,580.0 1517.1,578.0 1517.9,578.6 1518.7,576.5 1519.5,574.6 1520.3,571.6 1521.1,569.2 1521.9,568.5 1523.5,567.8 1525.1,566.2 1526.7,565.6 1528.3,563.2 1529.9,564.0 1531.5,561.6 1532.9,561.5 1534.2,558.4 1535.6,556.6 1536.9,554.6 1538.3,554.9 1539.6,553.8 1541.0,551.6 1541.7,550.1 1542.5,547.6 1543.2,545.7 1543.9,544.1 1544.6,540.8 1545.4,539.9 1546.1,539.2 1546.8,537.6 1547.5,536.8 1548.3,534.6 1549.0,532.6 1551.0,533.0 1553.0,531.5 1555.0,534.6 1557.0,534.5 1557.5,534.0 1558.0,531.4 1558.6,529.5 1559.1,527.4 1559.6,525.8 1560.2,522.3 1560.7,520.8 1561.2,521.7 1561.7,519.1 1562.2,516.4 1562.8,514.6 1563.3,512.7 1564.4,514.7 1565.4,510.4 1566.5,508.3 1567.6,506.0 1568.6,502.7 1569.7,503.6 1570.8,503.3 1571.8,501.2 1572.9,499.0 1573.8,499.7 1574.7,500.7 1575.6,503.6 1576.5,504.7 1577.3,505.6 1578.2,509.9 1579.1,509.0 1580.0,510.9 1580.9,510.7 1581.6,513.0 1582.3,509.3 1583.0,507.5 1583.6,506.1 1584.3,503.1 1585.0,501.5 1585.7,500.6 1586.9,497.9 1588.1,497.4 1589.3,496.7 1590.5,494.7 1591.6,493.8 1592.8,491.8 1594.0,490.9 1595.2,487.9 1595.5,486.2 1595.9,482.9 1596.2,481.9 1596.6,479.6 1596.9,478.4 1597.3,475.6 1597.6,475.2 1597.9,475.6 1598.3,470.4 1598.6,469.9 1599.0,468.2 1599.3,465.0 1599.7,463.6 1600.0,461.6 1601.9,463.2 1603.8,462.7 1605.8,466.6 1607.7,465.5 1609.6,466.4 1609.9,465.5 1610.2,462.8 1610.6,459.4 1610.9,458.0 1611.2,455.7 1611.5,454.0 1611.8,452.8 1612.2,447.9 1612.5,446.3 1612.8,445.8 1613.1,444.7 1613.5,442.0 1613.8,440.4 1614.2,439.9 1614.5,437.7 1614.9,435.0 1615.2,433.0 1615.5,430.0 1615.9,430.2 1616.2,428.0 1616.6,425.1 1616.9,424.7 1617.3,422.0 1617.6,420.2 1617.8,417.1 1618.0,417.9 1618.2,414.4 1618.4,413.7 1618.6,411.8 1618.8,409.2 1619.0,407.9 1619.2,406.0 1619.3,404.2 1619.5,402.8 1619.7,400.2 1619.9,399.7 1620.1,397.3 1620.3,394.3 1620.5,394.0 1620.7,391.4 1621.0,390.4 1621.2,385.8 1621.5,386.6 1621.8,382.1 1622.0,382.1 1622.3,383.9 1622.6,379.5 1622.8,378.0 1623.1,374.4 1623.4,372.1 1623.6,371.3 1623.9,369.9 1624.2,367.5 1624.4,365.1 1624.7,363.0 1625.0,361.7 1625.2,361.8 1625.5,358.4 1625.8,356.1 1626.0,354.4 1626.3,351.8 1626.6,349.6 1626.8,349.2 1627.1,348.6 1627.5,345.9 1627.9,342.1 1628.3,343.2 1628.7,340.1 1629.1,339.9 1629.5,336.0 1629.9,332.9 1630.3,332.6 1630.7,330.4 1631.1,327.6 1631.5,326.1 1631.9,324.6 1632.1,322.3 1632.4,321.9 1632.6,319.8 1632.8,317.2 1633.0,315.5 1633.3,314.9 1633.5,312.6 1633.7,309.2 1634.0,308.8 1634.2,308.4 1634.4,305.2 1634.6,302.2 1634.9,302.7 1635.1,301.9 1635.3,297.7 1635.6,293.4 1635.8,292.5 1636.0,294.0 1636.2,290.1 1636.5,289.2 1636.7,287.2 1636.9,285.0 1637.2,284.7 1637.4,281.4 1637.6,280.0 1637.8,277.9 1638.1,276.0 1638.3,276.4 1639.0,271.0 1639.7,269.1 1640.4,269.6 1641.0,265.5 1641.7,265.1 1642.4,262.0 1643.1,262.2 1643.6,259.3 1644.0,258.1 1644.5,254.8 1645.0,253.4 1645.4,249.4 1645.9,250.6 1646.4,248.2 1646.9,245.9 1647.3,244.0 1647.8,241.7 1648.0,240.2 1648.3,240.3 1648.5,236.0 1648.7,234.3 1648.9,233.6 1649.2,231.4 1649.4,228.7 1649.6,229.1 1649.9,227.3 1650.1,223.5 1650.3,223.8 1650.5,218.8 1650.8,219.9 1651.0,214.9 1652.6,215.3 1654.2,213.2 1655.0,214.7 1655.8,217.5 1656.6,217.7 1657.4,219.6 1658.2,221.0 1659.0,225.4 1659.8,225.1 1660.6,227.8 1661.4,229.0 1662.2,232.0 1663.8,228.6 1665.4,227.5 1667.0,226.5 1668.6,226.0 1670.2,223.8 1671.1,223.4 1672.1,221.9 1673.0,220.8 1674.0,218.7 1674.9,218.0 1675.0,214.4 1675.1,212.4 1675.2,210.3 1675.2,208.5 1675.3,206.0 1675.4,205.9 1675.5,203.8 1675.6,199.7 1675.7,199.8 1675.7,197.4 1675.8,195.4 1675.9,194.2 1676.0,193.8 1676.1,190.9 1676.2,186.9 1676.2,187.4 1676.3,184.3 1676.4,185.0 1676.5,181.0 1677.0,179.7 1677.6,177.8 1678.1,175.4 1678.6,174.0 1679.2,172.5 1679.7,173.1 1680.2,169.2 1680.8,167.8 1681.3,165.6 1682.6,167.0 1683.9,168.4 1685.1,170.8 1686.4,167.7 1687.7,171.3 1689.3,172.4 1690.9,175.4 1692.5,175.0 1694.1,178.0 1695.7,179.4 1697.0,176.2 1698.3,175.7 1699.5,173.1 1700.8,172.8 1702.1,170.9 1703.7,173.2 1705.2,174.4 1706.8,174.1 1708.4,178.2 1709.3,175.0 1710.2,174.2 1711.1,171.4 1712.1,170.4 1713.0,166.4 1713.9,167.1 1714.8,163.0 1715.7,165.4 1716.6,167.7 1717.5,167.3 1718.5,170.8 1719.4,172.0 1720.3,174.4 1721.2,175.1 1721.5,176.0 1721.9,177.7 1722.2,179.8 1722.6,182.6 1722.9,184.1 1723.3,186.7 1723.6,189.4 1723.9,189.5 1724.3,191.1 1724.6,193.8 1725.0,195.7 1725.3,194.9 1725.7,198.2 1726.0,200.7 1726.9,203.1 1727.8,203.8 1728.7,205.1 1729.6,210.0 1730.5,206.6 1731.4,212.9 1732.3,212.7 1733.4,214.5 1734.6,216.5 1735.9,215.5 1737.2,212.9 1738.5,211.2 1739.9,211.6 1741.2,211.2 1742.5,208.3 1743.4,212.4 1744.3,210.5 1745.2,214.2 1746.2,215.4 1747.1,217.8 1748.0,217.0 1748.9,220.3 1749.6,221.4 1750.3,221.1 1751.0,224.7 1751.6,225.6 1752.3,228.5 1753.0,231.3 1753.7,232.4 1754.1,236.1 1754.4,236.7 1754.8,237.2 1755.1,239.2 1755.5,241.7 1755.8,242.4 1756.2,245.4 1756.5,247.2 1756.9,249.4 1758.5,249.6 1760.1,250.5 1761.7,250.2 1763.3,252.5 1764.9,253.1 1766.0,255.1 1767.2,256.9 1768.3,257.4 1769.4,259.3 1770.5,260.6 1771.7,261.7 1772.8,262.7 1772.9,265.3 1773.0,268.6 1773.1,267.7 1773.3,272.2 1773.4,274.3 1773.5,276.3 1773.6,276.9 1773.7,278.7 1773.8,281.9 1773.9,283.4 1774.1,286.2 1774.2,286.0 1774.3,287.7 1774.4,291.1 1775.7,291.2 1777.1,293.0 1778.4,296.0 1779.7,297.1 1781.1,297.5 1782.4,300.1 1783.0,301.2 1783.6,304.0 1784.1,305.1 1784.7,305.6 1785.3,309.9 1785.9,309.9 1786.5,311.8 1787.1,312.9 1787.6,315.2 1788.2,316.6 1788.8,319.3 1790.9,320.3 1793.1,322.0 1795.2,322.7 1796.6,322.8 1797.9,323.9 1799.3,325.2 1800.6,328.3 1802.0,327.9 1803.3,331.6 1804.7,331.6 1805.3,333.2 1805.9,335.2 1806.5,338.6 1807.1,338.7 1807.7,340.1 1808.3,341.2 1808.9,342.4 1809.5,345.1 1811.9,346.3 1814.3,344.8 1815.2,341.9 1816.1,338.6 1817.0,340.5 1818.0,338.2 1818.9,334.2 1819.8,334.4 1820.7,331.9 1821.6,335.6 1822.5,336.8 1823.4,337.1 1824.3,337.2 1825.2,340.7 1826.1,345.1 1827.0,344.7 1827.3,345.5 1827.7,348.8 1828.0,349.1 1828.4,353.1 1828.7,351.6 1829.1,354.7 1829.4,358.5 1829.7,359.9 1830.1,361.1 1830.4,361.0 1830.8,364.3 1831.1,366.7 1831.5,367.4 1831.8,369.7 1832.3,372.5 1832.8,373.1 1833.2,375.9 1833.7,377.1 1834.2,378.1 1834.7,379.6 1835.2,382.3 1835.6,384.1 1836.1,387.9 1836.6,388.8 1837.7,388.4 1838.7,393.4 1839.8,396.0 1840.9,394.7 1841.9,397.3 1843.0,398.2 1844.0,400.7 1844.9,401.7 1845.9,403.6 1846.8,404.7 1847.8,405.7 1848.7,407.6 1849.6,408.7 1850.4,410.4 1851.3,412.3 1852.2,416.9 1853.1,416.6 1853.9,419.3 1854.8,417.6 1855.7,420.4 1857.6,420.7 1859.5,420.0 1861.5,418.2 1863.4,416.3 1865.3,414.4 1867.3,416.8 1869.3,415.8 1871.3,418.5 1873.3,418.5 1874.0,416.5 1874.7,414.7 1875.4,412.1 1876.1,410.6 1876.9,410.5 1877.6,407.6 1878.3,405.8 1879.0,405.7 1879.7,403.6 1880.7,401.8 1881.7,398.3 1882.7,399.3 1883.7,397.2 1884.6,394.0 1885.6,392.9 1886.6,392.7 1887.6,391.5 1889.2,388.8 1890.8,387.0 1892.4,388.3 1893.3,388.2 1894.2,391.1 1895.1,392.0 1896.1,393.4 1897.0,394.7 1897.9,398.2 1898.8,398.0 1900.2,397.0 1901.6,394.9 1903.0,396.1 1904.4,392.8 1905.8,390.2 1907.2,389.8 1908.6,386.8 1910.0,386.9 1910.8,387.6 1911.6,391.8 1912.4,393.8 1913.2,396.4 1914.0,395.5 1914.8,396.7 1915.5,397.2 1916.3,401.3 1917.1,402.0 1917.9,405.8 1918.7,408.3 1919.5,406.5 1920.6,406.2 1921.6,406.5 1922.7,401.7 1923.8,400.4 1924.8,400.8 1925.9,398.7 1927.0,394.9 1928.0,395.7 1929.1,393.2 1930.4,392.3 1931.7,391.3 1933.0,391.3 1934.4,389.1 1935.7,386.0 1937.0,387.0 1938.1,384.7 1939.3,382.9 1940.4,380.1 1941.6,378.3 1942.7,377.7 1943.9,377.5 1945.0,374.9 1947.0,375.4 1949.0,376.4 1951.0,377.2 1953.0,377.4 1953.3,375.9 1953.6,372.2 1953.8,372.2 1954.1,371.4 1954.4,369.0 1954.7,368.5 1955.0,366.8 1955.3,363.1 1955.5,360.3 1955.8,359.8 1956.1,356.7 1956.4,357.1 1956.7,354.3 1957.0,353.4 1957.2,350.6 1957.5,348.4 1957.8,348.9 1958.5,345.4 1959.2,343.8 1959.9,342.2 1960.6,339.8 1961.4,338.1 1962.1,335.3 1962.8,334.9 1963.5,333.4 1964.2,330.4 1965.2,331.1 1966.2,334.0 1967.2,336.7 1968.2,338.4 1969.1,339.6 1970.1,340.0 1971.1,342.9 1972.1,343.9 1973.2,343.5 1974.4,341.7 1975.5,338.9 1976.6,338.6 1977.8,337.2 1978.9,336.6 1980.0,336.0 1981.2,331.3 1982.3,330.8 1982.9,332.5 1983.5,334.3 1984.0,336.2 1984.6,339.9 1985.2,340.7 1985.8,341.7 1986.4,344.1 1987.0,345.5 1987.5,346.5 1988.1,348.8 1988.7,351.1 1989.2,349.9 1989.6,345.9 1990.1,345.2 1990.5,343.6 1991.0,341.8 1991.4,339.3 1991.9,337.4 1992.4,334.4 1992.8,333.1 1993.3,331.7 1993.7,329.8 1994.2,329.1 1994.6,326.5 1995.1,324.5 1997.0,324.9 1998.9,326.4 2000.8,325.4 2002.7,329.0 2004.6,326.8 2005.1,325.7 2005.6,324.5 2006.1,322.7 2006.6,321.3 2007.1,317.1 2007.6,317.3 2008.1,314.3 2008.6,315.1 2009.1,310.0 2009.6,310.1 2010.1,309.0 2010.6,306.5 2011.1,304.9 2011.6,303.0 2012.1,301.6 2012.6,300.4 2014.5,299.5 2016.4,300.5 2018.4,299.4 2020.3,300.3 2022.2,298.1 2022.9,302.8 2023.6,303.6 2024.3,305.6 2024.9,308.4 2025.6,307.8 2026.3,309.4 2027.0,309.6 2027.3,311.5 2027.5,309.1 2027.8,308.9 2028.1,305.1 2028.4,303.6 2028.6,301.4 2028.9,299.8 2029.2,298.1 2029.5,295.4 2029.7,293.4 2030.0,292.0 2030.3,289.4 2030.6,290.1 2030.8,286.2 2031.1,284.9 2031.4,283.3 2031.7,281.0 2031.9,281.2 2032.2,278.3 2032.5,277.1 2032.8,272.9 2033.0,271.8 2033.3,268.5 2034.9,273.1 2036.5,272.7 2038.1,275.1 2039.7,277.0 2041.3,275.7 2042.4,276.2 2043.4,273.7 2044.5,272.7 2045.6,271.0 2046.6,269.7 2047.7,267.4 2048.0,264.2 2048.3,262.9 2048.7,261.7 2049.0,259.8 2049.3,256.9 2049.6,255.4 2049.9,254.2 2050.3,253.3 2050.6,250.3 2050.9,247.7 2051.4,246.8 2052.0,243.8 2052.5,243.5 2053.0,239.9 2053.6,240.3 2054.1,237.1 2054.6,237.2 2055.2,234.0 2055.7,232.0 2055.9,230.8 2056.2,228.5 2056.4,226.9 2056.6,227.1 2056.8,224.0 2057.1,222.1 2057.3,217.7 2057.5,219.2 2057.8,216.8 2058.0,214.1 2058.2,211.3 2058.4,209.2 2058.7,208.0 2058.9,206.9 2060.1,205.6 2061.2,204.1 2062.4,202.5 2063.6,200.7 2064.9,198.8 2066.2,196.1 2067.4,197.9 2068.7,195.2 2070.0,193.6 2070.2,194.4 2070.4,195.0 2070.5,199.7 2070.7,199.2 2070.9,200.5 2071.1,204.4 2071.2,207.1 2071.4,207.2 2071.6,209.5 2071.8,212.0 2072.0,213.3 2072.1,215.0 2072.3,217.6 2072.5,219.5 2072.7,220.0 2072.8,222.5 2073.0,224.7 2073.2,227.1 2074.1,228.3 2075.0,229.4 2075.9,231.8 2076.9,232.5 2077.8,235.1 2078.7,238.2 2079.6,239.0 2080.0,241.0 2080.3,243.0 2080.7,244.2 2081.0,244.9 2081.4,246.9 2081.7,250.5 2082.1,251.1 2082.4,251.6 2082.8,256.3 2083.7,256.1 2084.6,257.1 2085.5,262.4 2086.4,262.8 2087.3,264.0 2088.2,266.5 2089.1,268.3 2091.1,267.0 2093.1,268.4 2095.1,267.0 2097.1,266.9 2097.6,267.9 2098.2,271.3 2098.7,275.1 2099.2,273.5 2099.8,275.8 2100.3,278.9 2100.8,281.9 2101.4,281.6 2101.9,283.9 2102.3,285.1 2102.6,287.1 2103.0,290.4 2103.3,290.9 2103.7,294.3 2104.0,296.1 2104.4,296.8 2104.7,298.2 2105.1,301.0 2105.5,298.1 2105.8,296.7 2106.2,295.6 2106.6,294.0 2106.9,291.8 2107.3,288.1 2107.7,287.8 2108.1,286.9 2108.4,285.6 2108.8,283.4 2109.2,278.7 2109.5,277.8 2109.9,276.5 2112.0,275.9 2114.2,275.3 2116.3,275.9 2116.7,279.5 2117.1,280.5 2117.5,283.1 2117.9,284.9 2118.3,288.3 2118.7,288.4 2119.0,291.3 2119.4,291.7 2119.8,293.9 2120.2,294.2 2120.6,297.0 2121.0,298.6 2121.4,302.1 2121.8,302.9 2122.2,305.3 2122.6,307.1 2123.0,309.1 2123.4,308.9 2123.8,313.5 2124.2,312.9 2124.6,316.3 2125.0,319.0 2125.4,319.6 2125.8,323.8 2127.4,323.9 2129.0,324.3 2130.6,324.8 2132.2,325.7 2133.8,328.6 2135.8,328.9 2137.8,330.0 2139.8,331.1 2141.8,331.1 2142.5,333.1 2143.1,335.5 2143.8,335.8 2144.5,338.1 2145.2,339.7 2145.8,342.5 2146.5,343.7 2146.7,346.4 2147.0,347.2 2147.2,348.3 2147.4,351.3 2147.6,352.6 2147.9,353.9 2148.1,356.8 2148.3,358.4 2148.6,359.3 2148.8,362.1 2149.0,363.8 2149.2,365.6 2149.5,367.7 2149.7,369.2 2150.8,371.5 2151.8,372.9 2152.9,375.0 2154.0,375.9 2155.0,377.5 2156.1,378.9 2156.5,380.5 2156.9,382.5 2157.3,383.4 2157.7,385.7 2158.1,387.9 2158.5,389.2 2158.9,392.2 2159.3,394.0 2159.7,396.6 2160.1,398.0 2160.5,398.0 2160.9,402.0 2161.4,404.1 2161.9,405.4 2162.3,406.4 2162.8,409.0 2163.3,411.8 2163.8,413.4 2164.3,415.0 2164.7,416.8 2165.2,419.2 2165.7,419.9 2166.7,422.0 2167.7,423.1 2168.7,425.3 2169.6,424.9 2170.6,430.0 2171.6,430.4 2172.6,433.2 2173.6,432.5 2174.7,436.2 2175.7,437.7 2176.8,438.2 2177.9,439.1 2178.9,440.6 2180.0,441.7 2181.3,444.8 2182.7,447.3 2184.0,447.1 2185.3,447.9 2186.7,448.3 2188.0,451.1 2189.4,450.7 2190.7,448.2 2192.1,447.6 2193.5,445.1 2194.9,441.7 2196.2,442.7 2197.6,443.0 2198.5,441.1 2199.4,448.0 2200.2,448.3 2201.1,447.2 2202.0,450.1 2202.9,451.6 2203.7,454.2 2204.6,453.2 2205.5,455.1 2207.1,455.6 2208.7,457.9 2210.2,458.5 2211.8,459.8 2213.4,461.1 2215.0,461.5 2215.9,463.1 2216.7,459.2 2217.6,458.6 2218.4,456.5 2219.3,453.8 2220.6,453.9 2221.9,455.7 2223.2,457.1 2224.4,459.3 2225.7,462.2 2227.0,461.4 2228.3,461.0 2229.6,463.7 2230.9,465.4 2232.2,467.0 2233.5,465.4 2234.8,468.6 2236.0,471.8 2237.3,473.3 2238.6,475.1 2239.9,474.3 2240.9,472.3 2241.9,470.5 2242.9,467.8 2243.8,466.3 2244.8,466.3 2245.8,465.4 2246.8,461.7 2247.5,461.4 2248.1,466.2 2248.8,466.4 2249.4,467.9 2250.1,469.3 2250.7,472.1 2251.3,474.5 2252.0,474.9 2252.4,477.3 2252.8,480.0 2253.2,480.8 2253.6,482.3 2254.0,485.1 2254.3,487.5 2254.7,488.8 2255.1,489.7 2255.5,492.6 2255.9,494.4 2256.3,497.9 2256.9,497.4 2257.5,500.3 2258.1,501.3 2258.7,503.4 2259.3,506.5 2259.9,509.7 2260.5,508.8 2261.1,510.7 2261.7,512.7 2262.3,514.1 2263.1,514.9 2263.8,516.1 2264.6,518.4 2265.3,520.9 2266.1,522.8 2266.8,523.7 2267.6,524.0 2268.3,527.9 2268.9,525.5 2269.5,523.7 2270.1,523.5 2270.7,522.9 2271.4,519.5 2272.0,518.6 2272.6,513.3 2273.2,515.6 2273.8,511.3 2274.4,510.1 2275.3,510.2 2276.1,507.1 2277.0,505.2 2277.8,506.3 2278.7,503.2 2279.2,505.5 2279.8,506.5 2280.3,506.5 2280.8,509.3 2281.4,509.1 2281.9,513.7 2282.5,513.7 2283.0,515.3 2283.2,517.9 2283.4,518.5 2283.6,521.7 2283.8,521.9 2284.1,525.6 2284.3,525.7 2284.5,526.6 2284.7,532.7 2284.9,533.4 2285.1,533.8 2285.3,534.4 2285.6,537.4 2285.8,539.1 2286.0,540.5 2286.2,544.0 2286.4,544.5 2286.7,548.0 2286.9,548.5 2287.2,552.3 2287.5,551.1 2287.7,554.0 2288.0,556.1 2288.3,556.6 2288.6,558.9 2288.8,560.9 2289.1,564.0 2289.4,565.0 2289.6,567.3 2289.9,567.5 2290.2,570.8 2290.4,570.6 2290.7,574.9 2291.1,574.5 2291.5,578.6 2291.9,579.8 2292.3,580.4 2292.7,582.8 2293.1,585.5 2293.5,586.4 2293.9,587.2 2294.3,592.7 2294.7,592.4 2295.1,595.9 2295.5,596.2 2295.9,595.6 2296.8,600.9 2297.6,601.5 2298.5,603.1 2299.3,606.0 2300.2,605.8 2301.0,609.2 2301.9,609.5 2302.5,607.5 2303.1,605.6 2303.6,603.2 2304.2,601.5 2304.8,599.8 2305.4,600.1 2305.9,597.7 2306.5,595.3 2307.1,594.5 2307.7,590.5 2308.2,589.6 2308.8,588.1 2309.1,585.5 2309.4,584.3 2309.7,582.9 2310.0,581.7 2310.3,577.1 2310.6,575.2 2310.9,573.9 2311.3,572.0 2311.6,571.1 2311.9,569.4 2312.2,567.4 2312.5,566.2 2312.8,563.3 2313.1,561.6 2313.5,559.6 2313.8,557.8 2314.2,557.3 2314.6,554.9 2314.9,553.9 2315.3,550.6 2315.6,548.6 2316.0,546.3 2316.4,544.0 2316.7,544.0 2317.1,543.0 2317.5,539.2 2317.8,538.4 2318.2,535.4 2318.7,534.4 2319.2,532.7 2319.8,530.3 2320.3,528.7 2320.8,526.7 2321.3,526.1 2321.8,522.6 2322.4,521.7 2322.9,517.3 2323.4,518.5 2324.6,517.5 2325.7,519.7 2326.9,523.1 2328.0,523.1 2329.2,526.0 2330.3,525.5 2330.6,528.4 2330.9,528.5 2331.2,532.9 2331.4,533.5 2331.7,534.6 2332.0,538.4 2332.3,539.9 2332.6,541.5 2332.8,543.3 2333.1,544.5 2333.4,545.8 2333.7,548.9 2334.2,548.8 2334.7,550.8 2335.2,553.4 2335.7,557.0 2336.2,558.5 2336.8,559.7 2337.3,560.2 2337.8,564.0 2338.3,566.7 2338.8,565.6 2339.3,568.2 2339.8,570.8 2340.4,573.4 2341.1,572.5 2341.7,576.3 2342.3,576.2 2342.9,578.7 2343.6,580.4 2344.2,582.0 2344.8,584.1 2345.4,585.7 2346.1,586.0 2346.7,589.2 2347.5,593.0 2348.2,593.5 2349.0,595.1 2349.7,596.9 2350.5,599.1 2351.2,599.1 2352.0,602.2 2352.7,603.8 2353.5,605.0 2354.9,607.1 2356.3,607.4 2357.6,609.0 2359.0,611.8 2360.4,610.9 2361.6,611.0 2362.7,610.2 2363.9,607.6 2365.0,606.3 2366.2,604.3 2367.3,602.4 2368.7,605.1 2370.2,605.1 2371.6,606.2 2373.0,608.7 2374.5,609.2 2375.9,610.5 2377.3,613.3 2378.7,613.9 2380.0,612.4 2381.4,618.4 2382.8,617.0 2385.1,616.7 2387.4,617.4 2389.7,616.4 2390.8,615.0 2392.0,612.2 2393.1,609.9 2394.3,610.7 2395.4,608.2 2396.6,605.0 2397.8,606.5 2399.0,604.3 2400.2,602.1 2401.4,600.0 2402.6,600.0" fill="none" stroke="#ff0000" stroke-width="8.0" stroke-linejoin="round" stroke-linecap="butt" clip-path="url(#cC)" shape-rendering="crispEdges"/>
<polyline points="1495.2,1373.1 1507.2,1368.8 1545.1,1358.5 1586.4,1350.8 1624.3,1329.2 1665.6,1318.0 1708.7,1300.0 1746.6,1291.3 1781.0,1293.9 1818.3,1290.8 1848.8,1306.1 1892.0,1302.9 1933.9,1309.3 1975.8,1310.5 2014.0,1321.3 2057.2,1319.4 2098.0,1321.3 2141.2,1331.2 2184.3,1339.5 2227.4,1342.9 2270.2,1344.9 2311.6,1354.5 2354.7,1364.8 2396.1,1373.6 2403.0,1375.0" fill="none" stroke="#000" stroke-width="9.7" stroke-linejoin="round" stroke-linecap="butt" stroke-dasharray="22 18.6" stroke-dashoffset="0" clip-path="url(#cD)" shape-rendering="crispEdges"/>
<polyline points="1494.3,1368.0 1507.2,1361.1 1524.4,1355.9 1541.7,1350.8 1558.9,1343.0 1576.1,1337.0 1593.3,1334.4 1601.9,1326.6 1610.5,1316.3 1614.0,1292.2 1616.6,1266.4 1619.2,1240.5 1621.7,1214.7 1625.2,1192.3 1629.5,1168.2 1632.9,1149.3 1636.4,1144.1 1640.7,1151.0 1644.1,1171.7 1646.7,1192.3 1650.2,1216.4 1654.5,1235.4 1660.5,1247.4 1665.6,1262.9 1670.8,1278.4 1677.7,1292.2 1684.6,1299.1 1693.2,1308.6 1701.8,1304.3 1713.9,1303.4 1725.9,1306.0 1734.5,1313.7 1748.3,1314.6 1758.6,1320.6 1772.4,1324.9 1784.5,1328.4 1790.3,1334.0 1808.1,1335.3 1823.4,1334.7 1838.6,1337.8 1852.6,1340.4 1866.6,1341.7 1884.4,1339.1 1909.8,1337.2 1933.9,1337.2 1941.5,1330.2 1960.6,1327.7 1973.3,1320.1 1992.4,1319.4 2002.5,1308.6 2017.8,1298.5 2026.7,1281.9 2034.3,1268.0 2038.1,1252.7 2043.3,1235.0 2049.9,1208.5 2056.5,1198.5 2061.5,1162.0 2068.2,1142.1 2074.8,1122.2 2079.8,1082.4 2083.1,1055.8 2088.1,1032.6 2093.0,1009.4 2098.0,992.8 2104.7,979.5 2109.6,949.6 2116.3,936.4 2121.3,903.2 2126.2,894.9 2132.9,909.8 2139.5,928.1 2146.1,913.1 2151.1,901.5 2156.1,919.8 2161.1,956.3 2169.4,957.9 2177.7,979.5 2186.0,976.2 2192.6,996.1 2197.6,1022.6 2204.2,1049.2 2210.8,1069.1 2217.5,1089.0 2225.8,1102.3 2232.4,1135.5 2239.0,1162.0 2245.7,1181.9 2251.0,1221.3 2256.6,1229.3 2261.4,1243.7 2268.6,1254.8 2273.4,1272.4 2279.7,1280.3 2284.5,1293.1 2294.1,1304.2 2300.5,1317.0 2308.4,1328.2 2316.4,1339.3 2326.0,1352.1 2335.5,1363.2 2343.5,1369.6 2351.5,1372.8 2359.5,1368.0 2369.0,1358.5 2378.6,1348.9 2386.6,1345.7 2394.5,1348.9 2402.5,1357.5" fill="none" stroke="#ff0000" stroke-width="7.9" stroke-linejoin="round" stroke-linecap="butt" clip-path="url(#cD)" shape-rendering="crispEdges"/>
<line x1="634.2" y1="41.5" x2="634.2" y2="1422.5" stroke="#000" stroke-width="7.5" stroke-dasharray="7.3 7.98" stroke-dashoffset="13.71"/>
<line x1="1889.7" y1="42.8" x2="1889.7" y2="1423.8" stroke="#000" stroke-width="7.4" stroke-dasharray="7.3 7.98" stroke-dashoffset="15.01"/>
<rect x="230.60" y="41.50" width="908.90" height="1381.00" fill="none" stroke="#000" stroke-width="5" stroke-linejoin="miter"/>
<line x1="230.60" y1="732.00" x2="1139.50" y2="732.00" stroke="#000" stroke-width="5" />
<rect x="1494.90" y="42.80" width="909.10" height="1381.00" fill="none" stroke="#000" stroke-width="2.7" stroke-linejoin="miter"/>
<line x1="1494.90" y1="733.40" x2="2404.00" y2="733.40" stroke="#000" stroke-width="2.7" />
<line x1="230.60" y1="548.40" x2="243.40" y2="548.40" stroke="#000" stroke-width="5" />
<line x1="230.60" y1="446.40" x2="251.00" y2="446.40" stroke="#000" stroke-width="5" />
<line x1="230.60" y1="344.70" x2="243.40" y2="344.70" stroke="#000" stroke-width="5" />
<line x1="230.60" y1="245.30" x2="251.00" y2="245.30" stroke="#000" stroke-width="5" />
<line x1="230.60" y1="140.80" x2="243.40" y2="140.80" stroke="#000" stroke-width="5" />
<line x1="230.60" y1="1315.99" x2="243.40" y2="1315.99" stroke="#000" stroke-width="5" />
<line x1="230.60" y1="1262.88" x2="251.00" y2="1262.88" stroke="#000" stroke-width="5" />
<line x1="230.60" y1="1209.77" x2="243.40" y2="1209.77" stroke="#000" stroke-width="5" />
<line x1="230.60" y1="1156.66" x2="251.00" y2="1156.66" stroke="#000" stroke-width="5" />
<line x1="230.60" y1="1103.55" x2="243.40" y2="1103.55" stroke="#000" stroke-width="5" />
<line x1="230.60" y1="1050.44" x2="251.00" y2="1050.44" stroke="#000" stroke-width="5" />
<line x1="230.60" y1="997.33" x2="243.40" y2="997.33" stroke="#000" stroke-width="5" />
<line x1="230.60" y1="944.22" x2="251.00" y2="944.22" stroke="#000" stroke-width="5" />
<line x1="230.60" y1="891.11" x2="243.40" y2="891.11" stroke="#000" stroke-width="5" />
<line x1="230.60" y1="838.00" x2="251.00" y2="838.00" stroke="#000" stroke-width="5" />
<line x1="230.60" y1="784.89" x2="243.40" y2="784.89" stroke="#000" stroke-width="5" />
<line x1="268.56" y1="732.00" x2="268.56" y2="722.00" stroke="#000" stroke-width="5" />
<line x1="268.56" y1="1422.50" x2="268.56" y2="1412.50" stroke="#000" stroke-width="5" />
<line x1="304.87" y1="732.00" x2="304.87" y2="722.00" stroke="#000" stroke-width="5" />
<line x1="304.87" y1="1422.50" x2="304.87" y2="1412.50" stroke="#000" stroke-width="5" />
<line x1="341.18" y1="732.00" x2="341.18" y2="722.00" stroke="#000" stroke-width="5" />
<line x1="341.18" y1="1422.50" x2="341.18" y2="1412.50" stroke="#000" stroke-width="5" />
<line x1="377.49" y1="732.00" x2="377.49" y2="722.00" stroke="#000" stroke-width="5" />
<line x1="377.49" y1="1422.50" x2="377.49" y2="1412.50" stroke="#000" stroke-width="5" />
<line x1="413.80" y1="732.00" x2="413.80" y2="714.50" stroke="#000" stroke-width="5" />
<line x1="413.80" y1="1422.50" x2="413.80" y2="1405.00" stroke="#000" stroke-width="5" />
<line x1="450.11" y1="732.00" x2="450.11" y2="722.00" stroke="#000" stroke-width="5" />
<line x1="450.11" y1="1422.50" x2="450.11" y2="1412.50" stroke="#000" stroke-width="5" />
<line x1="486.42" y1="732.00" x2="486.42" y2="722.00" stroke="#000" stroke-width="5" />
<line x1="486.42" y1="1422.50" x2="486.42" y2="1412.50" stroke="#000" stroke-width="5" />
<line x1="522.73" y1="732.00" x2="522.73" y2="722.00" stroke="#000" stroke-width="5" />
<line x1="522.73" y1="1422.50" x2="522.73" y2="1412.50" stroke="#000" stroke-width="5" />
<line x1="559.04" y1="732.00" x2="559.04" y2="722.00" stroke="#000" stroke-width="5" />
<line x1="559.04" y1="1422.50" x2="559.04" y2="1412.50" stroke="#000" stroke-width="5" />
<line x1="595.35" y1="732.00" x2="595.35" y2="714.50" stroke="#000" stroke-width="5" />
<line x1="595.35" y1="1422.50" x2="595.35" y2="1405.00" stroke="#000" stroke-width="5" />
<line x1="631.66" y1="732.00" x2="631.66" y2="722.00" stroke="#000" stroke-width="5" />
<line x1="631.66" y1="1422.50" x2="631.66" y2="1412.50" stroke="#000" stroke-width="5" />
<line x1="667.97" y1="732.00" x2="667.97" y2="722.00" stroke="#000" stroke-width="5" />
<line x1="667.97" y1="1422.50" x2="667.97" y2="1412.50" stroke="#000" stroke-width="5" />
<line x1="704.28" y1="732.00" x2="704.28" y2="722.00" stroke="#000" stroke-width="5" />
<line x1="704.28" y1="1422.50" x2="704.28" y2="1412.50" stroke="#000" stroke-width="5" />
<line x1="740.59" y1="732.00" x2="740.59" y2="722.00" stroke="#000" stroke-width="5" />
<line x1="740.59" y1="1422.50" x2="740.59" y2="1412.50" stroke="#000" stroke-width="5" />
<line x1="776.90" y1="732.00" x2="776.90" y2="714.50" stroke="#000" stroke-width="5" />
<line x1="776.90" y1="1422.50" x2="776.90" y2="1405.00" stroke="#000" stroke-width="5" />
<line x1="813.21" y1="732.00" x2="813.21" y2="722.00" stroke="#000" stroke-width="5" />
<line x1="813.21" y1="1422.50" x2="813.21" y2="1412.50" stroke="#000" stroke-width="5" />
<line x1="849.52" y1="732.00" x2="849.52" y2="722.00" stroke="#000" stroke-width="5" />
<line x1="849.52" y1="1422.50" x2="849.52" y2="1412.50" stroke="#000" stroke-width="5" />
<line x1="885.83" y1="732.00" x2="885.83" y2="722.00" stroke="#000" stroke-width="5" />
<line x1="885.83" y1="1422.50" x2="885.83" y2="1412.50" stroke="#000" stroke-width="5" />
<line x1="922.14" y1="732.00" x2="922.14" y2="722.00" stroke="#000" stroke-width="5" />
<line x1="922.14" y1="1422.50" x2="922.14" y2="1412.50" stroke="#000" stroke-width="5" />
<line x1="958.45" y1="732.00" x2="958.45" y2="714.50" stroke="#000" stroke-width="5" />
<line x1="958.45" y1="1422.50" x2="958.45" y2="1405.00" stroke="#000" stroke-width="5" />
<line x1="994.76" y1="732.00" x2="994.76" y2="722.00" stroke="#000" stroke-width="5" />
<line x1="994.76" y1="1422.50" x2="994.76" y2="1412.50" stroke="#000" stroke-width="5" />
<line x1="1031.07" y1="732.00" x2="1031.07" y2="722.00" stroke="#000" stroke-width="5" />
<line x1="1031.07" y1="1422.50" x2="1031.07" y2="1412.50" stroke="#000" stroke-width="5" />
<line x1="1067.38" y1="732.00" x2="1067.38" y2="722.00" stroke="#000" stroke-width="5" />
<line x1="1067.38" y1="1422.50" x2="1067.38" y2="1412.50" stroke="#000" stroke-width="5" />
<line x1="1103.69" y1="732.00" x2="1103.69" y2="722.00" stroke="#000" stroke-width="5" />
<line x1="1103.69" y1="1422.50" x2="1103.69" y2="1412.50" stroke="#000" stroke-width="5" />
<line x1="1494.90" y1="550.18" x2="1503.90" y2="550.18" stroke="#000" stroke-width="2.8" />
<line x1="2404.00" y1="550.18" x2="2397.50" y2="550.18" stroke="#000" stroke-width="2.8" />
<line x1="1494.90" y1="448.75" x2="1511.90" y2="448.75" stroke="#000" stroke-width="2.8" />
<line x1="2404.00" y1="448.75" x2="2387.00" y2="448.75" stroke="#000" stroke-width="2.8" />
<line x1="1494.90" y1="347.33" x2="1503.90" y2="347.33" stroke="#000" stroke-width="2.8" />
<line x1="2404.00" y1="347.33" x2="2397.50" y2="347.33" stroke="#000" stroke-width="2.8" />
<line x1="1494.90" y1="245.90" x2="1511.90" y2="245.90" stroke="#000" stroke-width="2.8" />
<line x1="2404.00" y1="245.90" x2="2387.00" y2="245.90" stroke="#000" stroke-width="2.8" />
<line x1="1494.90" y1="144.48" x2="1503.90" y2="144.48" stroke="#000" stroke-width="2.8" />
<line x1="2404.00" y1="144.48" x2="2397.50" y2="144.48" stroke="#000" stroke-width="2.8" />
<line x1="1494.90" y1="1285.87" x2="1503.90" y2="1285.87" stroke="#000" stroke-width="2.8" />
<line x1="2404.00" y1="1285.87" x2="2397.50" y2="1285.87" stroke="#000" stroke-width="2.8" />
<line x1="1494.90" y1="1193.74" x2="1511.90" y2="1193.74" stroke="#000" stroke-width="2.8" />
<line x1="2404.00" y1="1193.74" x2="2387.00" y2="1193.74" stroke="#000" stroke-width="2.8" />
<line x1="1494.90" y1="1101.61" x2="1503.90" y2="1101.61" stroke="#000" stroke-width="2.8" />
<line x1="2404.00" y1="1101.61" x2="2397.50" y2="1101.61" stroke="#000" stroke-width="2.8" />
<line x1="1494.90" y1="1009.48" x2="1511.90" y2="1009.48" stroke="#000" stroke-width="2.8" />
<line x1="2404.00" y1="1009.48" x2="2387.00" y2="1009.48" stroke="#000" stroke-width="2.8" />
<line x1="1494.90" y1="917.35" x2="1503.90" y2="917.35" stroke="#000" stroke-width="2.8" />
<line x1="2404.00" y1="917.35" x2="2397.50" y2="917.35" stroke="#000" stroke-width="2.8" />
<line x1="1494.90" y1="825.22" x2="1511.90" y2="825.22" stroke="#000" stroke-width="2.8" />
<line x1="2404.00" y1="825.22" x2="2387.00" y2="825.22" stroke="#000" stroke-width="2.8" />
<line x1="1587.45" y1="733.40" x2="1587.45" y2="726.90" stroke="#000" stroke-width="2.8" />
<line x1="1678.30" y1="733.40" x2="1678.30" y2="717.40" stroke="#000" stroke-width="2.8" />
<line x1="1769.15" y1="733.40" x2="1769.15" y2="726.90" stroke="#000" stroke-width="2.8" />
<line x1="1860.00" y1="733.40" x2="1860.00" y2="717.40" stroke="#000" stroke-width="2.8" />
<line x1="1950.85" y1="733.40" x2="1950.85" y2="726.90" stroke="#000" stroke-width="2.8" />
<line x1="2041.70" y1="733.40" x2="2041.70" y2="717.40" stroke="#000" stroke-width="2.8" />
<line x1="2132.55" y1="733.40" x2="2132.55" y2="726.90" stroke="#000" stroke-width="2.8" />
<line x1="2223.40" y1="733.40" x2="2223.40" y2="717.40" stroke="#000" stroke-width="2.8" />
<line x1="2314.25" y1="733.40" x2="2314.25" y2="726.90" stroke="#000" stroke-width="2.8" />
<line x1="1532.94" y1="1423.80" x2="1532.94" y2="1417.80" stroke="#000" stroke-width="2.8" />
<line x1="1569.28" y1="1423.80" x2="1569.28" y2="1417.80" stroke="#000" stroke-width="2.8" />
<line x1="1605.62" y1="1423.80" x2="1605.62" y2="1417.80" stroke="#000" stroke-width="2.8" />
<line x1="1641.96" y1="1423.80" x2="1641.96" y2="1417.80" stroke="#000" stroke-width="2.8" />
<line x1="1678.30" y1="1423.80" x2="1678.30" y2="1409.80" stroke="#000" stroke-width="2.8" />
<line x1="1714.64" y1="1423.80" x2="1714.64" y2="1417.80" stroke="#000" stroke-width="2.8" />
<line x1="1750.98" y1="1423.80" x2="1750.98" y2="1417.80" stroke="#000" stroke-width="2.8" />
<line x1="1787.32" y1="1423.80" x2="1787.32" y2="1417.80" stroke="#000" stroke-width="2.8" />
<line x1="1823.66" y1="1423.80" x2="1823.66" y2="1417.80" stroke="#000" stroke-width="2.8" />
<line x1="1860.00" y1="1423.80" x2="1860.00" y2="1409.80" stroke="#000" stroke-width="2.8" />
<line x1="1896.34" y1="1423.80" x2="1896.34" y2="1417.80" stroke="#000" stroke-width="2.8" />
<line x1="1932.68" y1="1423.80" x2="1932.68" y2="1417.80" stroke="#000" stroke-width="2.8" />
<line x1="1969.02" y1="1423.80" x2="1969.02" y2="1417.80" stroke="#000" stroke-width="2.8" />
<line x1="2005.36" y1="1423.80" x2="2005.36" y2="1417.80" stroke="#000" stroke-width="2.8" />
<line x1="2041.70" y1="1423.80" x2="2041.70" y2="1409.80" stroke="#000" stroke-width="2.8" />
<line x1="2078.04" y1="1423.80" x2="2078.04" y2="1417.80" stroke="#000" stroke-width="2.8" />
<line x1="2114.38" y1="1423.80" x2="2114.38" y2="1417.80" stroke="#000" stroke-width="2.8" />
<line x1="2150.72" y1="1423.80" x2="2150.72" y2="1417.80" stroke="#000" stroke-width="2.8" />
<line x1="2187.06" y1="1423.80" x2="2187.06" y2="1417.80" stroke="#000" stroke-width="2.8" />
<line x1="2223.40" y1="1423.80" x2="2223.40" y2="1409.80" stroke="#000" stroke-width="2.8" />
<line x1="2259.74" y1="1423.80" x2="2259.74" y2="1417.80" stroke="#000" stroke-width="2.8" />
<line x1="2296.08" y1="1423.80" x2="2296.08" y2="1417.80" stroke="#000" stroke-width="2.8" />
<line x1="2332.42" y1="1423.80" x2="2332.42" y2="1417.80" stroke="#000" stroke-width="2.8" />
<line x1="2368.76" y1="1423.80" x2="2368.76" y2="1417.80" stroke="#000" stroke-width="2.8" />
<g transform="translate(210.00,59.00) scale(0.93,1)"><text x="-101.91" y="0" dx="3.98 0.11 -3.55" font-size="70" style="letter-spacing:2.3px">1.5</text><rect x="-95.02" y="-8.74" width="13.23" height="10.44" fill="#fff"/><rect x="-71.79" y="-8.74" width="12.54" height="10.44" fill="#fff"/></g>
<g transform="translate(210.00,262.50) scale(0.93,1)"><text x="-101.91" y="0" dx="3.98 0.11 -3.55" font-size="70" style="letter-spacing:2.3px">1.0</text><rect x="-95.02" y="-8.74" width="13.23" height="10.44" fill="#fff"/><rect x="-71.79" y="-8.74" width="12.54" height="10.44" fill="#fff"/></g>
<g transform="translate(210.00,466.00) scale(0.93,1)"><text x="-101.91" y="0" dx="2.69 1.40 -3.55" font-size="70" style="letter-spacing:2.3px">0.5</text></g>
<g transform="translate(210.00,667.30) scale(0.93,1)"><text x="-101.91" y="0" dx="2.69 1.40 -3.55" font-size="70" style="letter-spacing:2.3px">0.0</text></g>
<g transform="translate(210.00,1386.60) scale(0.93,1)"><text x="-38.93" y="0" dx="0.54" font-size="70" style="letter-spacing:2.3px">0</text></g>
<g transform="translate(210.00,1280.38) scale(0.93,1)"><text x="-80.16" y="0" dx="0.54 0.00" font-size="70" style="letter-spacing:2.3px">20</text></g>
<g transform="translate(210.00,1174.16) scale(0.93,1)"><text x="-80.16" y="0" dx="0.54 0.00" font-size="70" style="letter-spacing:2.3px">40</text></g>
<g transform="translate(210.00,1067.94) scale(0.93,1)"><text x="-80.16" y="0" dx="0.54 0.00" font-size="70" style="letter-spacing:2.3px">60</text></g>
<g transform="translate(210.00,961.72) scale(0.93,1)"><text x="-80.16" y="0" dx="0.54 0.00" font-size="70" style="letter-spacing:2.3px">80</text></g>
<g transform="translate(210.00,855.50) scale(0.93,1)"><text x="-121.39" y="0" dx="3.55 -3.01 0.00" font-size="70" style="letter-spacing:2.3px">100</text><rect x="-114.93" y="-8.74" width="13.23" height="10.44" fill="#fff"/><rect x="-91.70" y="-8.74" width="12.54" height="10.44" fill="#fff"/></g>
<g transform="translate(210.00,749.28) scale(0.93,1)"><text x="-121.39" y="0" dx="3.55 -3.01 0.00" font-size="70" style="letter-spacing:2.3px">120</text><rect x="-114.93" y="-8.74" width="13.23" height="10.44" fill="#fff"/><rect x="-91.70" y="-8.74" width="12.54" height="10.44" fill="#fff"/></g>
<g transform="translate(231.85,1493.50) scale(0.93,1)"><text x="-60.70" y="0" dx="-2.15 0.00 0.00" font-size="70" style="letter-spacing:2.3px">450</text></g>
<g transform="translate(413.40,1493.50) scale(0.93,1)"><text x="-60.70" y="0" dx="-2.15 0.00 0.00" font-size="70" style="letter-spacing:2.3px">500</text></g>
<g transform="translate(594.95,1493.50) scale(0.93,1)"><text x="-60.70" y="0" dx="-2.15 0.00 0.00" font-size="70" style="letter-spacing:2.3px">550</text></g>
<g transform="translate(776.50,1493.50) scale(0.93,1)"><text x="-60.70" y="0" dx="-2.15 0.00 0.00" font-size="70" style="letter-spacing:2.3px">600</text></g>
<g transform="translate(958.05,1493.50) scale(0.93,1)"><text x="-60.70" y="0" dx="-2.15 0.00 0.00" font-size="70" style="letter-spacing:2.3px">650</text></g>
<g transform="translate(1139.60,1493.50) scale(0.93,1)"><text x="-60.70" y="0" dx="-2.15 0.00 0.00" font-size="70" style="letter-spacing:2.3px">700</text></g>
<g transform="translate(1473.00,59.00) scale(0.93,1)"><text x="-101.91" y="0" dx="3.98 0.11 -3.55" font-size="70" style="letter-spacing:2.3px">1.5</text><rect x="-95.02" y="-8.74" width="13.23" height="10.44" fill="#fff"/><rect x="-71.79" y="-8.74" width="12.54" height="10.44" fill="#fff"/></g>
<g transform="translate(1473.00,262.50) scale(0.93,1)"><text x="-101.91" y="0" dx="3.98 0.11 -3.55" font-size="70" style="letter-spacing:2.3px">1.0</text><rect x="-95.02" y="-8.74" width="13.23" height="10.44" fill="#fff"/><rect x="-71.79" y="-8.74" width="12.54" height="10.44" fill="#fff"/></g>
<g transform="translate(1473.00,466.00) scale(0.93,1)"><text x="-101.91" y="0" dx="2.69 1.40 -3.55" font-size="70" style="letter-spacing:2.3px">0.5</text></g>
<g transform="translate(1473.00,667.30) scale(0.93,1)"><text x="-101.91" y="0" dx="2.69 1.40 -3.55" font-size="70" style="letter-spacing:2.3px">0.0</text></g>
<g transform="translate(1473.00,1396.00) scale(0.93,1)"><text x="-38.93" y="0" dx="0.54" font-size="70" style="letter-spacing:2.3px">0</text></g>
<g transform="translate(1473.00,1211.74) scale(0.93,1)"><text x="-38.93" y="0" dx="0.54" font-size="70" style="letter-spacing:2.3px">2</text></g>
<g transform="translate(1473.00,1027.48) scale(0.93,1)"><text x="-38.93" y="0" dx="0.54" font-size="70" style="letter-spacing:2.3px">4</text></g>
<g transform="translate(1473.00,843.22) scale(0.93,1)"><text x="-38.93" y="0" dx="0.54" font-size="70" style="letter-spacing:2.3px">6</text></g>
<g transform="translate(1496.20,1493.50) scale(0.93,1)"><text x="-60.70" y="0" dx="-2.15 0.00 0.00" font-size="70" style="letter-spacing:2.3px">450</text></g>
<g transform="translate(1677.90,1493.50) scale(0.93,1)"><text x="-60.70" y="0" dx="-2.15 0.00 0.00" font-size="70" style="letter-spacing:2.3px">500</text></g>
<g transform="translate(1859.60,1493.50) scale(0.93,1)"><text x="-60.70" y="0" dx="-2.15 0.00 0.00" font-size="70" style="letter-spacing:2.3px">550</text></g>
<g transform="translate(2041.30,1493.50) scale(0.93,1)"><text x="-60.70" y="0" dx="-2.15 0.00 0.00" font-size="70" style="letter-spacing:2.3px">600</text></g>
<g transform="translate(2223.00,1493.50) scale(0.93,1)"><text x="-60.70" y="0" dx="-2.15 0.00 0.00" font-size="70" style="letter-spacing:2.3px">650</text></g>
<g transform="translate(2404.70,1493.50) scale(0.93,1)"><text x="-60.70" y="0" dx="-2.15 0.00 0.00" font-size="70" style="letter-spacing:2.3px">700</text></g>
<text x="265.30" y="133.00" font-size="74" text-anchor="start" >(a)</text>
<text x="265.30" y="822.00" font-size="74" text-anchor="start" >(b)</text>
<text x="1527.30" y="133.00" font-size="74" text-anchor="start" >(c)</text>
<text x="1527.30" y="822.00" font-size="74" text-anchor="start" >(d)</text>
<text transform="translate(65,1335.4) rotate(-90)" font-size="71" text-anchor="start" style="letter-spacing:-0.55px">Normalized intensity (arb. units)</text>
<text transform="translate(1358.8,1279.4) rotate(-90)" font-size="71" text-anchor="start" style="letter-spacing:-0.45px">Normalized intensity (arb. units)</text>
<text x="414.00" y="1611.30" font-size="68.5" text-anchor="start" style="letter-spacing:-0.36px">Wavelength (nm)</text>
<text x="1676.70" y="1613.50" font-size="68.5" text-anchor="start" style="letter-spacing:-0.3px">Wavelength (nm)</text>
</svg>
</body></html>
